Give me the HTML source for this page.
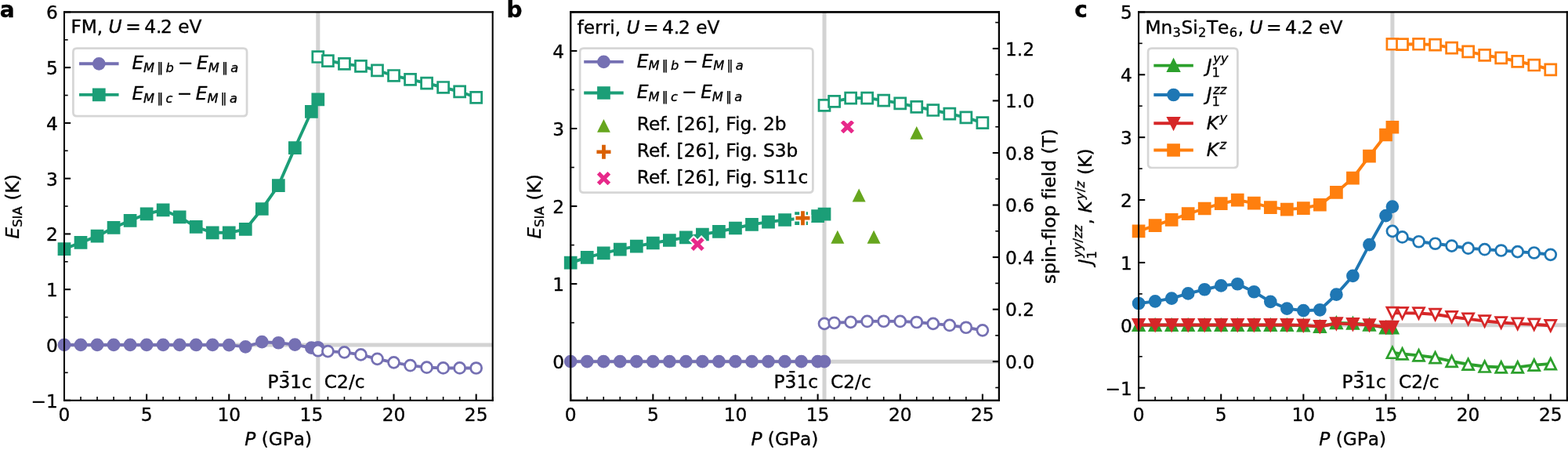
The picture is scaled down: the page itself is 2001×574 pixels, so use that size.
<!DOCTYPE html>
<html lang="en">
<head>
<meta charset="utf-8">
<title>Figure</title>
<style>
html,body{margin:0;padding:0;background:#fff;overflow:hidden}
svg{display:block;font-family:'DejaVu Sans',sans-serif}
text{stroke:#000;stroke-width:0.35px;stroke-linejoin:round;font-variant-ligatures:none}
</style>
</head>
<body>
<svg width="2001" height="574" viewBox="0 0 2001 574">
<g>
<g>
<path d="M 0 574 L 2001 574 L 2001 0 L 0 0 z" style="fill: #ffffff"/>
</g>
<g>
<g>
<path d="M 82 510.7 L 628.7 510.7 L 628.7 15.4 L 82 15.4 z" style="fill: #ffffff"/>
</g>
<g>
<path d="M 405.81 510.7 L 405.81 15.4" clip-path="url(#pd2cb2545d2)" style="fill: none; stroke: #d3d3d3; stroke-width: 5.06; stroke-linecap: square"/>
</g>
<g>
<path d="M 82 439.94 L 628.7 439.94" clip-path="url(#pd2cb2545d2)" style="fill: none; stroke: #d3d3d3; stroke-width: 5.06; stroke-linecap: square"/>
</g>
<g>
<g>
<g>
<g>
<path d="M 0 0 L 0 -8.15" transform="translate(82 510.7)" style="stroke: #000000; stroke-width: 2.06"/>
</g>
</g>
<g>
<text style="font-size: 23.3px; font-family: 'DejaVu Sans', sans-serif; text-anchor: middle" x="82" y="536.56">0</text>
</g>
</g>
<g>
<g>
<g>
<path d="M 0 0 L 0 -8.15" transform="translate(187.13 510.7)" style="stroke: #000000; stroke-width: 2.06"/>
</g>
</g>
<g>
<text style="font-size: 23.3px; font-family: 'DejaVu Sans', sans-serif; text-anchor: middle" x="187.13" y="536.56">5</text>
</g>
</g>
<g>
<g>
<g>
<path d="M 0 0 L 0 -8.15" transform="translate(292.27 510.7)" style="stroke: #000000; stroke-width: 2.06"/>
</g>
</g>
<g>
<text style="font-size: 23.3px; font-family: 'DejaVu Sans', sans-serif; text-anchor: middle" x="292.27" y="536.56">10</text>
</g>
</g>
<g>
<g>
<g>
<path d="M 0 0 L 0 -8.15" transform="translate(397.4 510.7)" style="stroke: #000000; stroke-width: 2.06"/>
</g>
</g>
<g>
<text style="font-size: 23.3px; font-family: 'DejaVu Sans', sans-serif; text-anchor: middle" x="397.4" y="536.56">15</text>
</g>
</g>
<g>
<g>
<g>
<path d="M 0 0 L 0 -8.15" transform="translate(502.54 510.7)" style="stroke: #000000; stroke-width: 2.06"/>
</g>
</g>
<g>
<text style="font-size: 23.3px; font-family: 'DejaVu Sans', sans-serif; text-anchor: middle" x="502.54" y="536.56">20</text>
</g>
</g>
<g>
<g>
<g>
<path d="M 0 0 L 0 -8.15" transform="translate(607.67 510.7)" style="stroke: #000000; stroke-width: 2.06"/>
</g>
</g>
<g>
<text style="font-size: 23.3px; font-family: 'DejaVu Sans', sans-serif; text-anchor: middle" x="607.67" y="536.56">25</text>
</g>
</g>
<g>
<g>
<g>
<path d="M 0 0 L 0 -4.66" transform="translate(103.03 510.7)" style="stroke: #000000; stroke-width: 1.6"/>
</g>
</g>
</g>
<g>
<g>
<g>
<path d="M 0 0 L 0 -4.66" transform="translate(124.05 510.7)" style="stroke: #000000; stroke-width: 1.6"/>
</g>
</g>
</g>
<g>
<g>
<g>
<path d="M 0 0 L 0 -4.66" transform="translate(145.08 510.7)" style="stroke: #000000; stroke-width: 1.6"/>
</g>
</g>
</g>
<g>
<g>
<g>
<path d="M 0 0 L 0 -4.66" transform="translate(166.11 510.7)" style="stroke: #000000; stroke-width: 1.6"/>
</g>
</g>
</g>
<g>
<g>
<g>
<path d="M 0 0 L 0 -4.66" transform="translate(208.16 510.7)" style="stroke: #000000; stroke-width: 1.6"/>
</g>
</g>
</g>
<g>
<g>
<g>
<path d="M 0 0 L 0 -4.66" transform="translate(229.19 510.7)" style="stroke: #000000; stroke-width: 1.6"/>
</g>
</g>
</g>
<g>
<g>
<g>
<path d="M 0 0 L 0 -4.66" transform="translate(250.22 510.7)" style="stroke: #000000; stroke-width: 1.6"/>
</g>
</g>
</g>
<g>
<g>
<g>
<path d="M 0 0 L 0 -4.66" transform="translate(271.24 510.7)" style="stroke: #000000; stroke-width: 1.6"/>
</g>
</g>
</g>
<g>
<g>
<g>
<path d="M 0 0 L 0 -4.66" transform="translate(313.3 510.7)" style="stroke: #000000; stroke-width: 1.6"/>
</g>
</g>
</g>
<g>
<g>
<g>
<path d="M 0 0 L 0 -4.66" transform="translate(334.32 510.7)" style="stroke: #000000; stroke-width: 1.6"/>
</g>
</g>
</g>
<g>
<g>
<g>
<path d="M 0 0 L 0 -4.66" transform="translate(355.35 510.7)" style="stroke: #000000; stroke-width: 1.6"/>
</g>
</g>
</g>
<g>
<g>
<g>
<path d="M 0 0 L 0 -4.66" transform="translate(376.38 510.7)" style="stroke: #000000; stroke-width: 1.6"/>
</g>
</g>
</g>
<g>
<g>
<g>
<path d="M 0 0 L 0 -4.66" transform="translate(418.43 510.7)" style="stroke: #000000; stroke-width: 1.6"/>
</g>
</g>
</g>
<g>
<g>
<g>
<path d="M 0 0 L 0 -4.66" transform="translate(439.46 510.7)" style="stroke: #000000; stroke-width: 1.6"/>
</g>
</g>
</g>
<g>
<g>
<g>
<path d="M 0 0 L 0 -4.66" transform="translate(460.48 510.7)" style="stroke: #000000; stroke-width: 1.6"/>
</g>
</g>
</g>
<g>
<g>
<g>
<path d="M 0 0 L 0 -4.66" transform="translate(481.51 510.7)" style="stroke: #000000; stroke-width: 1.6"/>
</g>
</g>
</g>
<g>
<g>
<g>
<path d="M 0 0 L 0 -4.66" transform="translate(523.57 510.7)" style="stroke: #000000; stroke-width: 1.6"/>
</g>
</g>
</g>
<g>
<g>
<g>
<path d="M 0 0 L 0 -4.66" transform="translate(544.59 510.7)" style="stroke: #000000; stroke-width: 1.6"/>
</g>
</g>
</g>
<g>
<g>
<g>
<path d="M 0 0 L 0 -4.66" transform="translate(565.62 510.7)" style="stroke: #000000; stroke-width: 1.6"/>
</g>
</g>
</g>
<g>
<g>
<g>
<path d="M 0 0 L 0 -4.66" transform="translate(586.65 510.7)" style="stroke: #000000; stroke-width: 1.6"/>
</g>
</g>
</g>
<g>
<g>
<g>
<path d="M 0 0 L 0 -4.66" transform="translate(628.7 510.7)" style="stroke: #000000; stroke-width: 1.6"/>
</g>
</g>
</g>
<g>
<g transform="translate(312.25 568.43)">
<text><tspan x="0" y="-0.55" style="font-style: oblique; font-size: 23.3px; font-family: 'DejaVu Sans', sans-serif">P</tspan><tspan x="14.02 21.41 30.48 48.5 62.52 76.77" y="-0.55" style="font-size: 23.3px; font-family: 'DejaVu Sans', sans-serif"> (GPa)</tspan></text>
</g>
</g>
</g>
<g>
<g>
<g>
<g>
<path d="M 0 0 L 8.15 0" transform="translate(82 510.7)" style="stroke: #000000; stroke-width: 2.06"/>
</g>
</g>
<g>
<text style="font-size: 23.3px; font-family: 'DejaVu Sans', sans-serif; text-anchor: end" x="73.84" y="519.55">−1</text>
</g>
</g>
<g>
<g>
<g>
<path d="M 0 0 L 8.15 0" transform="translate(82 439.94)" style="stroke: #000000; stroke-width: 2.06"/>
</g>
</g>
<g>
<text style="font-size: 23.3px; font-family: 'DejaVu Sans', sans-serif; text-anchor: end" x="73.84" y="448.8">0</text>
</g>
</g>
<g>
<g>
<g>
<path d="M 0 0 L 8.15 0" transform="translate(82 369.19)" style="stroke: #000000; stroke-width: 2.06"/>
</g>
</g>
<g>
<text style="font-size: 23.3px; font-family: 'DejaVu Sans', sans-serif; text-anchor: end" x="73.84" y="378.04">1</text>
</g>
</g>
<g>
<g>
<g>
<path d="M 0 0 L 8.15 0" transform="translate(82 298.43)" style="stroke: #000000; stroke-width: 2.06"/>
</g>
</g>
<g>
<text style="font-size: 23.3px; font-family: 'DejaVu Sans', sans-serif; text-anchor: end" x="73.84" y="307.28">2</text>
</g>
</g>
<g>
<g>
<g>
<path d="M 0 0 L 8.15 0" transform="translate(82 227.67)" style="stroke: #000000; stroke-width: 2.06"/>
</g>
</g>
<g>
<text style="font-size: 23.3px; font-family: 'DejaVu Sans', sans-serif; text-anchor: end" x="73.84" y="236.52">3</text>
</g>
</g>
<g>
<g>
<g>
<path d="M 0 0 L 8.15 0" transform="translate(82 156.91)" style="stroke: #000000; stroke-width: 2.06"/>
</g>
</g>
<g>
<text style="font-size: 23.3px; font-family: 'DejaVu Sans', sans-serif; text-anchor: end" x="73.84" y="165.77">4</text>
</g>
</g>
<g>
<g>
<g>
<path d="M 0 0 L 8.15 0" transform="translate(82 86.16)" style="stroke: #000000; stroke-width: 2.06"/>
</g>
</g>
<g>
<text style="font-size: 23.3px; font-family: 'DejaVu Sans', sans-serif; text-anchor: end" x="73.84" y="95.01">5</text>
</g>
</g>
<g>
<g>
<g>
<path d="M 0 0 L 8.15 0" transform="translate(82 15.4)" style="stroke: #000000; stroke-width: 2.06"/>
</g>
</g>
<g>
<text style="font-size: 23.3px; font-family: 'DejaVu Sans', sans-serif; text-anchor: end" x="73.84" y="24.25">6</text>
</g>
</g>
<g>
<g>
<g>
<path d="M 0 0 L 4.66 0" transform="translate(82 475.32)" style="stroke: #000000; stroke-width: 1.6"/>
</g>
</g>
</g>
<g>
<g>
<g>
<path d="M 0 0 L 4.66 0" transform="translate(82 404.56)" style="stroke: #000000; stroke-width: 1.6"/>
</g>
</g>
</g>
<g>
<g>
<g>
<path d="M 0 0 L 4.66 0" transform="translate(82 333.81)" style="stroke: #000000; stroke-width: 1.6"/>
</g>
</g>
</g>
<g>
<g>
<g>
<path d="M 0 0 L 4.66 0" transform="translate(82 263.05)" style="stroke: #000000; stroke-width: 1.6"/>
</g>
</g>
</g>
<g>
<g>
<g>
<path d="M 0 0 L 4.66 0" transform="translate(82 192.29)" style="stroke: #000000; stroke-width: 1.6"/>
</g>
</g>
</g>
<g>
<g>
<g>
<path d="M 0 0 L 4.66 0" transform="translate(82 121.54)" style="stroke: #000000; stroke-width: 1.6"/>
</g>
</g>
</g>
<g>
<g>
<g>
<path d="M 0 0 L 4.66 0" transform="translate(82 50.78)" style="stroke: #000000; stroke-width: 1.6"/>
</g>
</g>
</g>
<g>
<g transform="translate(24.83 304.41) rotate(-90)">
<text><tspan x="0" y="-0.55" style="font-style: oblique; font-size: 23.3px; font-family: 'DejaVu Sans', sans-serif">E</tspan><tspan x="14.69 25.02 29.82" y="3.23" style="font-size: 16.31px; font-family: 'DejaVu Sans', sans-serif">SIA</tspan><tspan x="41.58 48.97 58.04 73.29" y="-0.55" style="font-size: 23.3px; font-family: 'DejaVu Sans', sans-serif"> (K)</tspan></text>
</g>
</g>
</g>
<g>
<path d="M 82 439.94 L 103.03 439.94 L 124.05 439.94 L 145.08 439.94 L 166.11 439.94 L 187.13 439.94 L 208.16 439.94 L 229.19 439.94 L 250.22 439.94 L 271.24 439.94 L 292.27 440.16 L 313.3 442.35 L 334.32 436.19 L 355.35 437.25 L 376.38 439.59 L 397.4 443.69 L 405.81 443.27" style="fill: none; stroke: #7570b3; stroke-width: 3.9; stroke-linecap: square"/>
<g>
<path d="M 0 6.99 C 1.85 6.99 3.63 6.25 4.94 4.94 C 6.25 3.63 6.99 1.85 6.99 0 C 6.99 -1.85 6.25 -3.63 4.94 -4.94 C 3.63 -6.25 1.85 -6.99 0 -6.99 C -1.85 -6.99 -3.63 -6.25 -4.94 -4.94 C -6.25 -3.63 -6.99 -1.85 -6.99 0 C -6.99 1.85 -6.25 3.63 -4.94 4.94 C -3.63 6.25 -1.85 6.99 0 6.99 z" transform="translate(82 439.94)" style="fill: #7570b3; stroke: #7570b3; stroke-width: 2.73"/>
<path d="M 0 6.99 C 1.85 6.99 3.63 6.25 4.94 4.94 C 6.25 3.63 6.99 1.85 6.99 0 C 6.99 -1.85 6.25 -3.63 4.94 -4.94 C 3.63 -6.25 1.85 -6.99 0 -6.99 C -1.85 -6.99 -3.63 -6.25 -4.94 -4.94 C -6.25 -3.63 -6.99 -1.85 -6.99 0 C -6.99 1.85 -6.25 3.63 -4.94 4.94 C -3.63 6.25 -1.85 6.99 0 6.99 z" transform="translate(103.03 439.94)" style="fill: #7570b3; stroke: #7570b3; stroke-width: 2.73"/>
<path d="M 0 6.99 C 1.85 6.99 3.63 6.25 4.94 4.94 C 6.25 3.63 6.99 1.85 6.99 0 C 6.99 -1.85 6.25 -3.63 4.94 -4.94 C 3.63 -6.25 1.85 -6.99 0 -6.99 C -1.85 -6.99 -3.63 -6.25 -4.94 -4.94 C -6.25 -3.63 -6.99 -1.85 -6.99 0 C -6.99 1.85 -6.25 3.63 -4.94 4.94 C -3.63 6.25 -1.85 6.99 0 6.99 z" transform="translate(124.05 439.94)" style="fill: #7570b3; stroke: #7570b3; stroke-width: 2.73"/>
<path d="M 0 6.99 C 1.85 6.99 3.63 6.25 4.94 4.94 C 6.25 3.63 6.99 1.85 6.99 0 C 6.99 -1.85 6.25 -3.63 4.94 -4.94 C 3.63 -6.25 1.85 -6.99 0 -6.99 C -1.85 -6.99 -3.63 -6.25 -4.94 -4.94 C -6.25 -3.63 -6.99 -1.85 -6.99 0 C -6.99 1.85 -6.25 3.63 -4.94 4.94 C -3.63 6.25 -1.85 6.99 0 6.99 z" transform="translate(145.08 439.94)" style="fill: #7570b3; stroke: #7570b3; stroke-width: 2.73"/>
<path d="M 0 6.99 C 1.85 6.99 3.63 6.25 4.94 4.94 C 6.25 3.63 6.99 1.85 6.99 0 C 6.99 -1.85 6.25 -3.63 4.94 -4.94 C 3.63 -6.25 1.85 -6.99 0 -6.99 C -1.85 -6.99 -3.63 -6.25 -4.94 -4.94 C -6.25 -3.63 -6.99 -1.85 -6.99 0 C -6.99 1.85 -6.25 3.63 -4.94 4.94 C -3.63 6.25 -1.85 6.99 0 6.99 z" transform="translate(166.11 439.94)" style="fill: #7570b3; stroke: #7570b3; stroke-width: 2.73"/>
<path d="M 0 6.99 C 1.85 6.99 3.63 6.25 4.94 4.94 C 6.25 3.63 6.99 1.85 6.99 0 C 6.99 -1.85 6.25 -3.63 4.94 -4.94 C 3.63 -6.25 1.85 -6.99 0 -6.99 C -1.85 -6.99 -3.63 -6.25 -4.94 -4.94 C -6.25 -3.63 -6.99 -1.85 -6.99 0 C -6.99 1.85 -6.25 3.63 -4.94 4.94 C -3.63 6.25 -1.85 6.99 0 6.99 z" transform="translate(187.13 439.94)" style="fill: #7570b3; stroke: #7570b3; stroke-width: 2.73"/>
<path d="M 0 6.99 C 1.85 6.99 3.63 6.25 4.94 4.94 C 6.25 3.63 6.99 1.85 6.99 0 C 6.99 -1.85 6.25 -3.63 4.94 -4.94 C 3.63 -6.25 1.85 -6.99 0 -6.99 C -1.85 -6.99 -3.63 -6.25 -4.94 -4.94 C -6.25 -3.63 -6.99 -1.85 -6.99 0 C -6.99 1.85 -6.25 3.63 -4.94 4.94 C -3.63 6.25 -1.85 6.99 0 6.99 z" transform="translate(208.16 439.94)" style="fill: #7570b3; stroke: #7570b3; stroke-width: 2.73"/>
<path d="M 0 6.99 C 1.85 6.99 3.63 6.25 4.94 4.94 C 6.25 3.63 6.99 1.85 6.99 0 C 6.99 -1.85 6.25 -3.63 4.94 -4.94 C 3.63 -6.25 1.85 -6.99 0 -6.99 C -1.85 -6.99 -3.63 -6.25 -4.94 -4.94 C -6.25 -3.63 -6.99 -1.85 -6.99 0 C -6.99 1.85 -6.25 3.63 -4.94 4.94 C -3.63 6.25 -1.85 6.99 0 6.99 z" transform="translate(229.19 439.94)" style="fill: #7570b3; stroke: #7570b3; stroke-width: 2.73"/>
<path d="M 0 6.99 C 1.85 6.99 3.63 6.25 4.94 4.94 C 6.25 3.63 6.99 1.85 6.99 0 C 6.99 -1.85 6.25 -3.63 4.94 -4.94 C 3.63 -6.25 1.85 -6.99 0 -6.99 C -1.85 -6.99 -3.63 -6.25 -4.94 -4.94 C -6.25 -3.63 -6.99 -1.85 -6.99 0 C -6.99 1.85 -6.25 3.63 -4.94 4.94 C -3.63 6.25 -1.85 6.99 0 6.99 z" transform="translate(250.22 439.94)" style="fill: #7570b3; stroke: #7570b3; stroke-width: 2.73"/>
<path d="M 0 6.99 C 1.85 6.99 3.63 6.25 4.94 4.94 C 6.25 3.63 6.99 1.85 6.99 0 C 6.99 -1.85 6.25 -3.63 4.94 -4.94 C 3.63 -6.25 1.85 -6.99 0 -6.99 C -1.85 -6.99 -3.63 -6.25 -4.94 -4.94 C -6.25 -3.63 -6.99 -1.85 -6.99 0 C -6.99 1.85 -6.25 3.63 -4.94 4.94 C -3.63 6.25 -1.85 6.99 0 6.99 z" transform="translate(271.24 439.94)" style="fill: #7570b3; stroke: #7570b3; stroke-width: 2.73"/>
<path d="M 0 6.99 C 1.85 6.99 3.63 6.25 4.94 4.94 C 6.25 3.63 6.99 1.85 6.99 0 C 6.99 -1.85 6.25 -3.63 4.94 -4.94 C 3.63 -6.25 1.85 -6.99 0 -6.99 C -1.85 -6.99 -3.63 -6.25 -4.94 -4.94 C -6.25 -3.63 -6.99 -1.85 -6.99 0 C -6.99 1.85 -6.25 3.63 -4.94 4.94 C -3.63 6.25 -1.85 6.99 0 6.99 z" transform="translate(292.27 440.16)" style="fill: #7570b3; stroke: #7570b3; stroke-width: 2.73"/>
<path d="M 0 6.99 C 1.85 6.99 3.63 6.25 4.94 4.94 C 6.25 3.63 6.99 1.85 6.99 0 C 6.99 -1.85 6.25 -3.63 4.94 -4.94 C 3.63 -6.25 1.85 -6.99 0 -6.99 C -1.85 -6.99 -3.63 -6.25 -4.94 -4.94 C -6.25 -3.63 -6.99 -1.85 -6.99 0 C -6.99 1.85 -6.25 3.63 -4.94 4.94 C -3.63 6.25 -1.85 6.99 0 6.99 z" transform="translate(313.3 442.35)" style="fill: #7570b3; stroke: #7570b3; stroke-width: 2.73"/>
<path d="M 0 6.99 C 1.85 6.99 3.63 6.25 4.94 4.94 C 6.25 3.63 6.99 1.85 6.99 0 C 6.99 -1.85 6.25 -3.63 4.94 -4.94 C 3.63 -6.25 1.85 -6.99 0 -6.99 C -1.85 -6.99 -3.63 -6.25 -4.94 -4.94 C -6.25 -3.63 -6.99 -1.85 -6.99 0 C -6.99 1.85 -6.25 3.63 -4.94 4.94 C -3.63 6.25 -1.85 6.99 0 6.99 z" transform="translate(334.32 436.19)" style="fill: #7570b3; stroke: #7570b3; stroke-width: 2.73"/>
<path d="M 0 6.99 C 1.85 6.99 3.63 6.25 4.94 4.94 C 6.25 3.63 6.99 1.85 6.99 0 C 6.99 -1.85 6.25 -3.63 4.94 -4.94 C 3.63 -6.25 1.85 -6.99 0 -6.99 C -1.85 -6.99 -3.63 -6.25 -4.94 -4.94 C -6.25 -3.63 -6.99 -1.85 -6.99 0 C -6.99 1.85 -6.25 3.63 -4.94 4.94 C -3.63 6.25 -1.85 6.99 0 6.99 z" transform="translate(355.35 437.25)" style="fill: #7570b3; stroke: #7570b3; stroke-width: 2.73"/>
<path d="M 0 6.99 C 1.85 6.99 3.63 6.25 4.94 4.94 C 6.25 3.63 6.99 1.85 6.99 0 C 6.99 -1.85 6.25 -3.63 4.94 -4.94 C 3.63 -6.25 1.85 -6.99 0 -6.99 C -1.85 -6.99 -3.63 -6.25 -4.94 -4.94 C -6.25 -3.63 -6.99 -1.85 -6.99 0 C -6.99 1.85 -6.25 3.63 -4.94 4.94 C -3.63 6.25 -1.85 6.99 0 6.99 z" transform="translate(376.38 439.59)" style="fill: #7570b3; stroke: #7570b3; stroke-width: 2.73"/>
<path d="M 0 6.99 C 1.85 6.99 3.63 6.25 4.94 4.94 C 6.25 3.63 6.99 1.85 6.99 0 C 6.99 -1.85 6.25 -3.63 4.94 -4.94 C 3.63 -6.25 1.85 -6.99 0 -6.99 C -1.85 -6.99 -3.63 -6.25 -4.94 -4.94 C -6.25 -3.63 -6.99 -1.85 -6.99 0 C -6.99 1.85 -6.25 3.63 -4.94 4.94 C -3.63 6.25 -1.85 6.99 0 6.99 z" transform="translate(397.4 443.69)" style="fill: #7570b3; stroke: #7570b3; stroke-width: 2.73"/>
<path d="M 0 6.99 C 1.85 6.99 3.63 6.25 4.94 4.94 C 6.25 3.63 6.99 1.85 6.99 0 C 6.99 -1.85 6.25 -3.63 4.94 -4.94 C 3.63 -6.25 1.85 -6.99 0 -6.99 C -1.85 -6.99 -3.63 -6.25 -4.94 -4.94 C -6.25 -3.63 -6.99 -1.85 -6.99 0 C -6.99 1.85 -6.25 3.63 -4.94 4.94 C -3.63 6.25 -1.85 6.99 0 6.99 z" transform="translate(405.81 443.27)" style="fill: #7570b3; stroke: #7570b3; stroke-width: 2.73"/>
</g>
</g>
<g>
<path d="M 405.81 447.23 L 418.43 448.08 L 439.46 449.35 L 460.48 452.4 L 481.51 457.84 L 502.54 462.37 L 523.57 466.19 L 544.59 468.67 L 565.62 469.45 L 586.65 469.45 L 607.67 469.52" style="fill: none; stroke: #7570b3; stroke-width: 3.9; stroke-linecap: square"/>
<g>
<path d="M 0 6.99 C 1.85 6.99 3.63 6.25 4.94 4.94 C 6.25 3.63 6.99 1.85 6.99 0 C 6.99 -1.85 6.25 -3.63 4.94 -4.94 C 3.63 -6.25 1.85 -6.99 0 -6.99 C -1.85 -6.99 -3.63 -6.25 -4.94 -4.94 C -6.25 -3.63 -6.99 -1.85 -6.99 0 C -6.99 1.85 -6.25 3.63 -4.94 4.94 C -3.63 6.25 -1.85 6.99 0 6.99 z" transform="translate(405.81 447.23)" style="fill: #ffffff; stroke: #7570b3; stroke-width: 2.73"/>
<path d="M 0 6.99 C 1.85 6.99 3.63 6.25 4.94 4.94 C 6.25 3.63 6.99 1.85 6.99 0 C 6.99 -1.85 6.25 -3.63 4.94 -4.94 C 3.63 -6.25 1.85 -6.99 0 -6.99 C -1.85 -6.99 -3.63 -6.25 -4.94 -4.94 C -6.25 -3.63 -6.99 -1.85 -6.99 0 C -6.99 1.85 -6.25 3.63 -4.94 4.94 C -3.63 6.25 -1.85 6.99 0 6.99 z" transform="translate(418.43 448.08)" style="fill: #ffffff; stroke: #7570b3; stroke-width: 2.73"/>
<path d="M 0 6.99 C 1.85 6.99 3.63 6.25 4.94 4.94 C 6.25 3.63 6.99 1.85 6.99 0 C 6.99 -1.85 6.25 -3.63 4.94 -4.94 C 3.63 -6.25 1.85 -6.99 0 -6.99 C -1.85 -6.99 -3.63 -6.25 -4.94 -4.94 C -6.25 -3.63 -6.99 -1.85 -6.99 0 C -6.99 1.85 -6.25 3.63 -4.94 4.94 C -3.63 6.25 -1.85 6.99 0 6.99 z" transform="translate(439.46 449.35)" style="fill: #ffffff; stroke: #7570b3; stroke-width: 2.73"/>
<path d="M 0 6.99 C 1.85 6.99 3.63 6.25 4.94 4.94 C 6.25 3.63 6.99 1.85 6.99 0 C 6.99 -1.85 6.25 -3.63 4.94 -4.94 C 3.63 -6.25 1.85 -6.99 0 -6.99 C -1.85 -6.99 -3.63 -6.25 -4.94 -4.94 C -6.25 -3.63 -6.99 -1.85 -6.99 0 C -6.99 1.85 -6.25 3.63 -4.94 4.94 C -3.63 6.25 -1.85 6.99 0 6.99 z" transform="translate(460.48 452.4)" style="fill: #ffffff; stroke: #7570b3; stroke-width: 2.73"/>
<path d="M 0 6.99 C 1.85 6.99 3.63 6.25 4.94 4.94 C 6.25 3.63 6.99 1.85 6.99 0 C 6.99 -1.85 6.25 -3.63 4.94 -4.94 C 3.63 -6.25 1.85 -6.99 0 -6.99 C -1.85 -6.99 -3.63 -6.25 -4.94 -4.94 C -6.25 -3.63 -6.99 -1.85 -6.99 0 C -6.99 1.85 -6.25 3.63 -4.94 4.94 C -3.63 6.25 -1.85 6.99 0 6.99 z" transform="translate(481.51 457.84)" style="fill: #ffffff; stroke: #7570b3; stroke-width: 2.73"/>
<path d="M 0 6.99 C 1.85 6.99 3.63 6.25 4.94 4.94 C 6.25 3.63 6.99 1.85 6.99 0 C 6.99 -1.85 6.25 -3.63 4.94 -4.94 C 3.63 -6.25 1.85 -6.99 0 -6.99 C -1.85 -6.99 -3.63 -6.25 -4.94 -4.94 C -6.25 -3.63 -6.99 -1.85 -6.99 0 C -6.99 1.85 -6.25 3.63 -4.94 4.94 C -3.63 6.25 -1.85 6.99 0 6.99 z" transform="translate(502.54 462.37)" style="fill: #ffffff; stroke: #7570b3; stroke-width: 2.73"/>
<path d="M 0 6.99 C 1.85 6.99 3.63 6.25 4.94 4.94 C 6.25 3.63 6.99 1.85 6.99 0 C 6.99 -1.85 6.25 -3.63 4.94 -4.94 C 3.63 -6.25 1.85 -6.99 0 -6.99 C -1.85 -6.99 -3.63 -6.25 -4.94 -4.94 C -6.25 -3.63 -6.99 -1.85 -6.99 0 C -6.99 1.85 -6.25 3.63 -4.94 4.94 C -3.63 6.25 -1.85 6.99 0 6.99 z" transform="translate(523.57 466.19)" style="fill: #ffffff; stroke: #7570b3; stroke-width: 2.73"/>
<path d="M 0 6.99 C 1.85 6.99 3.63 6.25 4.94 4.94 C 6.25 3.63 6.99 1.85 6.99 0 C 6.99 -1.85 6.25 -3.63 4.94 -4.94 C 3.63 -6.25 1.85 -6.99 0 -6.99 C -1.85 -6.99 -3.63 -6.25 -4.94 -4.94 C -6.25 -3.63 -6.99 -1.85 -6.99 0 C -6.99 1.85 -6.25 3.63 -4.94 4.94 C -3.63 6.25 -1.85 6.99 0 6.99 z" transform="translate(544.59 468.67)" style="fill: #ffffff; stroke: #7570b3; stroke-width: 2.73"/>
<path d="M 0 6.99 C 1.85 6.99 3.63 6.25 4.94 4.94 C 6.25 3.63 6.99 1.85 6.99 0 C 6.99 -1.85 6.25 -3.63 4.94 -4.94 C 3.63 -6.25 1.85 -6.99 0 -6.99 C -1.85 -6.99 -3.63 -6.25 -4.94 -4.94 C -6.25 -3.63 -6.99 -1.85 -6.99 0 C -6.99 1.85 -6.25 3.63 -4.94 4.94 C -3.63 6.25 -1.85 6.99 0 6.99 z" transform="translate(565.62 469.45)" style="fill: #ffffff; stroke: #7570b3; stroke-width: 2.73"/>
<path d="M 0 6.99 C 1.85 6.99 3.63 6.25 4.94 4.94 C 6.25 3.63 6.99 1.85 6.99 0 C 6.99 -1.85 6.25 -3.63 4.94 -4.94 C 3.63 -6.25 1.85 -6.99 0 -6.99 C -1.85 -6.99 -3.63 -6.25 -4.94 -4.94 C -6.25 -3.63 -6.99 -1.85 -6.99 0 C -6.99 1.85 -6.25 3.63 -4.94 4.94 C -3.63 6.25 -1.85 6.99 0 6.99 z" transform="translate(586.65 469.45)" style="fill: #ffffff; stroke: #7570b3; stroke-width: 2.73"/>
<path d="M 0 6.99 C 1.85 6.99 3.63 6.25 4.94 4.94 C 6.25 3.63 6.99 1.85 6.99 0 C 6.99 -1.85 6.25 -3.63 4.94 -4.94 C 3.63 -6.25 1.85 -6.99 0 -6.99 C -1.85 -6.99 -3.63 -6.25 -4.94 -4.94 C -6.25 -3.63 -6.99 -1.85 -6.99 0 C -6.99 1.85 -6.25 3.63 -4.94 4.94 C -3.63 6.25 -1.85 6.99 0 6.99 z" transform="translate(607.67 469.52)" style="fill: #ffffff; stroke: #7570b3; stroke-width: 2.73"/>
</g>
</g>
<g>
<path d="M 82 317.53 L 103.03 309.47 L 124.05 301.12 L 145.08 290.43 L 166.11 281.31 L 187.13 272.89 L 208.16 267.79 L 229.19 276.92 L 250.22 289.44 L 271.24 296.8 L 292.27 296.8 L 313.3 292.41 L 334.32 266.52 L 355.35 236.52 L 376.38 188.54 L 397.4 142.27 L 405.81 126.91" style="fill: none; stroke: #1b9e77; stroke-width: 3.9; stroke-linecap: square"/>
<g>
<path d="M -6.99 6.99 L 6.99 6.99 L 6.99 -6.99 L -6.99 -6.99 z" transform="translate(82 317.53)" style="fill: #1b9e77; stroke: #1b9e77; stroke-width: 2.73; stroke-linejoin: miter"/>
<path d="M -6.99 6.99 L 6.99 6.99 L 6.99 -6.99 L -6.99 -6.99 z" transform="translate(103.03 309.47)" style="fill: #1b9e77; stroke: #1b9e77; stroke-width: 2.73; stroke-linejoin: miter"/>
<path d="M -6.99 6.99 L 6.99 6.99 L 6.99 -6.99 L -6.99 -6.99 z" transform="translate(124.05 301.12)" style="fill: #1b9e77; stroke: #1b9e77; stroke-width: 2.73; stroke-linejoin: miter"/>
<path d="M -6.99 6.99 L 6.99 6.99 L 6.99 -6.99 L -6.99 -6.99 z" transform="translate(145.08 290.43)" style="fill: #1b9e77; stroke: #1b9e77; stroke-width: 2.73; stroke-linejoin: miter"/>
<path d="M -6.99 6.99 L 6.99 6.99 L 6.99 -6.99 L -6.99 -6.99 z" transform="translate(166.11 281.31)" style="fill: #1b9e77; stroke: #1b9e77; stroke-width: 2.73; stroke-linejoin: miter"/>
<path d="M -6.99 6.99 L 6.99 6.99 L 6.99 -6.99 L -6.99 -6.99 z" transform="translate(187.13 272.89)" style="fill: #1b9e77; stroke: #1b9e77; stroke-width: 2.73; stroke-linejoin: miter"/>
<path d="M -6.99 6.99 L 6.99 6.99 L 6.99 -6.99 L -6.99 -6.99 z" transform="translate(208.16 267.79)" style="fill: #1b9e77; stroke: #1b9e77; stroke-width: 2.73; stroke-linejoin: miter"/>
<path d="M -6.99 6.99 L 6.99 6.99 L 6.99 -6.99 L -6.99 -6.99 z" transform="translate(229.19 276.92)" style="fill: #1b9e77; stroke: #1b9e77; stroke-width: 2.73; stroke-linejoin: miter"/>
<path d="M -6.99 6.99 L 6.99 6.99 L 6.99 -6.99 L -6.99 -6.99 z" transform="translate(250.22 289.44)" style="fill: #1b9e77; stroke: #1b9e77; stroke-width: 2.73; stroke-linejoin: miter"/>
<path d="M -6.99 6.99 L 6.99 6.99 L 6.99 -6.99 L -6.99 -6.99 z" transform="translate(271.24 296.8)" style="fill: #1b9e77; stroke: #1b9e77; stroke-width: 2.73; stroke-linejoin: miter"/>
<path d="M -6.99 6.99 L 6.99 6.99 L 6.99 -6.99 L -6.99 -6.99 z" transform="translate(292.27 296.8)" style="fill: #1b9e77; stroke: #1b9e77; stroke-width: 2.73; stroke-linejoin: miter"/>
<path d="M -6.99 6.99 L 6.99 6.99 L 6.99 -6.99 L -6.99 -6.99 z" transform="translate(313.3 292.41)" style="fill: #1b9e77; stroke: #1b9e77; stroke-width: 2.73; stroke-linejoin: miter"/>
<path d="M -6.99 6.99 L 6.99 6.99 L 6.99 -6.99 L -6.99 -6.99 z" transform="translate(334.32 266.52)" style="fill: #1b9e77; stroke: #1b9e77; stroke-width: 2.73; stroke-linejoin: miter"/>
<path d="M -6.99 6.99 L 6.99 6.99 L 6.99 -6.99 L -6.99 -6.99 z" transform="translate(355.35 236.52)" style="fill: #1b9e77; stroke: #1b9e77; stroke-width: 2.73; stroke-linejoin: miter"/>
<path d="M -6.99 6.99 L 6.99 6.99 L 6.99 -6.99 L -6.99 -6.99 z" transform="translate(376.38 188.54)" style="fill: #1b9e77; stroke: #1b9e77; stroke-width: 2.73; stroke-linejoin: miter"/>
<path d="M -6.99 6.99 L 6.99 6.99 L 6.99 -6.99 L -6.99 -6.99 z" transform="translate(397.4 142.27)" style="fill: #1b9e77; stroke: #1b9e77; stroke-width: 2.73; stroke-linejoin: miter"/>
<path d="M -6.99 6.99 L 6.99 6.99 L 6.99 -6.99 L -6.99 -6.99 z" transform="translate(405.81 126.91)" style="fill: #1b9e77; stroke: #1b9e77; stroke-width: 2.73; stroke-linejoin: miter"/>
</g>
</g>
<g>
<path d="M 405.81 72.5 L 418.43 77.52 L 439.46 81.35 L 460.48 84.39 L 481.51 89.91 L 502.54 96.49 L 523.57 101.37 L 544.59 106.18 L 565.62 111.49 L 586.65 116.79 L 607.67 124.37" style="fill: none; stroke: #1b9e77; stroke-width: 3.9; stroke-linecap: square"/>
<g>
<path d="M -6.99 6.99 L 6.99 6.99 L 6.99 -6.99 L -6.99 -6.99 z" transform="translate(405.81 72.5)" style="fill: #ffffff; stroke: #1b9e77; stroke-width: 2.73; stroke-linejoin: miter"/>
<path d="M -6.99 6.99 L 6.99 6.99 L 6.99 -6.99 L -6.99 -6.99 z" transform="translate(418.43 77.52)" style="fill: #ffffff; stroke: #1b9e77; stroke-width: 2.73; stroke-linejoin: miter"/>
<path d="M -6.99 6.99 L 6.99 6.99 L 6.99 -6.99 L -6.99 -6.99 z" transform="translate(439.46 81.35)" style="fill: #ffffff; stroke: #1b9e77; stroke-width: 2.73; stroke-linejoin: miter"/>
<path d="M -6.99 6.99 L 6.99 6.99 L 6.99 -6.99 L -6.99 -6.99 z" transform="translate(460.48 84.39)" style="fill: #ffffff; stroke: #1b9e77; stroke-width: 2.73; stroke-linejoin: miter"/>
<path d="M -6.99 6.99 L 6.99 6.99 L 6.99 -6.99 L -6.99 -6.99 z" transform="translate(481.51 89.91)" style="fill: #ffffff; stroke: #1b9e77; stroke-width: 2.73; stroke-linejoin: miter"/>
<path d="M -6.99 6.99 L 6.99 6.99 L 6.99 -6.99 L -6.99 -6.99 z" transform="translate(502.54 96.49)" style="fill: #ffffff; stroke: #1b9e77; stroke-width: 2.73; stroke-linejoin: miter"/>
<path d="M -6.99 6.99 L 6.99 6.99 L 6.99 -6.99 L -6.99 -6.99 z" transform="translate(523.57 101.37)" style="fill: #ffffff; stroke: #1b9e77; stroke-width: 2.73; stroke-linejoin: miter"/>
<path d="M -6.99 6.99 L 6.99 6.99 L 6.99 -6.99 L -6.99 -6.99 z" transform="translate(544.59 106.18)" style="fill: #ffffff; stroke: #1b9e77; stroke-width: 2.73; stroke-linejoin: miter"/>
<path d="M -6.99 6.99 L 6.99 6.99 L 6.99 -6.99 L -6.99 -6.99 z" transform="translate(565.62 111.49)" style="fill: #ffffff; stroke: #1b9e77; stroke-width: 2.73; stroke-linejoin: miter"/>
<path d="M -6.99 6.99 L 6.99 6.99 L 6.99 -6.99 L -6.99 -6.99 z" transform="translate(586.65 116.79)" style="fill: #ffffff; stroke: #1b9e77; stroke-width: 2.73; stroke-linejoin: miter"/>
<path d="M -6.99 6.99 L 6.99 6.99 L 6.99 -6.99 L -6.99 -6.99 z" transform="translate(607.67 124.37)" style="fill: #ffffff; stroke: #1b9e77; stroke-width: 2.73; stroke-linejoin: miter"/>
</g>
</g>
<g>
<path d="M 82 510.7 L 82 15.4" style="fill: none; stroke: #000000; stroke-width: 2.06; stroke-linejoin: miter; stroke-linecap: square"/>
</g>
<g>
<path d="M 628.7 510.7 L 628.7 15.4" style="fill: none; stroke: #000000; stroke-width: 2.06; stroke-linejoin: miter; stroke-linecap: square"/>
</g>
<g>
<path d="M 82 510.7 L 628.7 510.7" style="fill: none; stroke: #000000; stroke-width: 2.06; stroke-linejoin: miter; stroke-linecap: square"/>
</g>
<g>
<path d="M 82 15.4 L 628.7 15.4" style="fill: none; stroke: #000000; stroke-width: 2.06; stroke-linejoin: miter; stroke-linecap: square"/>
</g>
<g>
<g transform="translate(341.38 494.9)">
<text><tspan x="0 14.02" y="-0.34" style="font-size: 23.3px; font-family: 'DejaVu Sans', sans-serif">P3</tspan><tspan x="28.92" y="-4.26" style="font-size: 23.3px; font-family: 'DejaVu Sans', sans-serif">̄</tspan><tspan x="28.81 43.61" y="-0.34" style="font-size: 23.3px; font-family: 'DejaVu Sans', sans-serif">1c</tspan></text>
</g>
</g>
<g>
<text style="font-size: 23.3px; font-family: 'DejaVu Sans', sans-serif; text-anchor: start" x="413.83" y="494.9">C2/c</text>
</g>
<g>
<g transform="translate(90.41 43.3)">
<text><tspan x="0 13.37 33.43 40.82" y="-0.92" style="font-size: 23.3px; font-family: 'DejaVu Sans', sans-serif">FM, </tspan><tspan x="48.21" y="-0.92" style="font-style: oblique; font-size: 23.3px; font-family: 'DejaVu Sans', sans-serif">U</tspan><tspan x="69.76 93.77 108.56 114.7 129.5 136.89 151.19" y="-0.92" style="font-size: 23.3px; font-family: 'DejaVu Sans', sans-serif">=4.2 eV</tspan></text>
</g>
</g>
<g>
<path d="M 98.06 148.2 L 310.44 148.2 Q 315.1 148.2 315.1 143.54 L 315.1 66.31 Q 315.1 61.65 310.44 61.65 L 98.06 61.65 Q 93.4 61.65 93.4 66.31 L 93.4 143.54 Q 93.4 148.2 98.06 148.2 z" style="fill: #ffffff; opacity: 0.8; stroke: #cccccc; stroke-width: 2.73; stroke-linejoin: miter"/>
</g>
<g>
<path d="M 103 81.3 L 149.6 81.3" style="fill: none; stroke: #7570b3; stroke-width: 3.9; stroke-linecap: square"/>
</g>
<g>
<path d="M 103 120.9 L 149.6 120.9" style="fill: none; stroke: #1b9e77; stroke-width: 3.9; stroke-linecap: square"/>
</g>
<g>
<g>
<path d="M 0 6.99 C 1.85 6.99 3.63 6.25 4.94 4.94 C 6.25 3.63 6.99 1.85 6.99 0 C 6.99 -1.85 6.25 -3.63 4.94 -4.94 C 3.63 -6.25 1.85 -6.99 0 -6.99 C -1.85 -6.99 -3.63 -6.25 -4.94 -4.94 C -6.25 -3.63 -6.99 -1.85 -6.99 0 C -6.99 1.85 -6.25 3.63 -4.94 4.94 C -3.63 6.25 -1.85 6.99 0 6.99 z" transform="translate(126.3 81.3)" style="fill: #7570b3; stroke: #7570b3; stroke-width: 2.73"/>
</g>
</g>
<g>
<g>
<path d="M -6.99 6.99 L 6.99 6.99 L 6.99 -6.99 L -6.99 -6.99 z" transform="translate(126.3 120.9)" style="fill: #1b9e77; stroke: #1b9e77; stroke-width: 2.73; stroke-linejoin: miter"/>
</g>
</g>
<g>
<g transform="translate(168.4 88)">
<text><tspan x="0" y="-0.23" style="font-style: oblique; font-size: 23.3px; font-family: 'DejaVu Sans', sans-serif">E</tspan><tspan x="14.69" y="3.54" style="font-style: oblique; font-size: 16.31px; font-family: 'DejaVu Sans', sans-serif">M</tspan><tspan x="31.9" y="3.54" style="font-size: 16.31px; font-family: 'DejaVu Sans', sans-serif">∥</tspan><tspan x="43.21" y="3.54" style="font-style: oblique; font-size: 16.31px; font-family: 'DejaVu Sans', sans-serif">b</tspan><tspan x="58.7" y="-0.23" style="font-size: 23.3px; font-family: 'DejaVu Sans', sans-serif">−</tspan><tspan x="82.71" y="-0.23" style="font-style: oblique; font-size: 23.3px; font-family: 'DejaVu Sans', sans-serif">E</tspan><tspan x="97.4" y="3.54" style="font-style: oblique; font-size: 16.31px; font-family: 'DejaVu Sans', sans-serif">M</tspan><tspan x="114.61" y="3.54" style="font-size: 16.31px; font-family: 'DejaVu Sans', sans-serif">∥</tspan><tspan x="125.92" y="3.54" style="font-style: oblique; font-size: 16.31px; font-family: 'DejaVu Sans', sans-serif">a</tspan></text>
</g>
</g>
<g>
<g transform="translate(168.4 127.7)">
<text><tspan x="0" y="-0.23" style="font-style: oblique; font-size: 23.3px; font-family: 'DejaVu Sans', sans-serif">E</tspan><tspan x="14.69" y="3.54" style="font-style: oblique; font-size: 16.31px; font-family: 'DejaVu Sans', sans-serif">M</tspan><tspan x="31.9" y="3.54" style="font-size: 16.31px; font-family: 'DejaVu Sans', sans-serif">∥</tspan><tspan x="43.21" y="3.54" style="font-style: oblique; font-size: 16.31px; font-family: 'DejaVu Sans', sans-serif">c</tspan><tspan x="57.32" y="-0.23" style="font-size: 23.3px; font-family: 'DejaVu Sans', sans-serif">−</tspan><tspan x="81.33" y="-0.23" style="font-style: oblique; font-size: 23.3px; font-family: 'DejaVu Sans', sans-serif">E</tspan><tspan x="96.02" y="3.54" style="font-style: oblique; font-size: 16.31px; font-family: 'DejaVu Sans', sans-serif">M</tspan><tspan x="113.23" y="3.54" style="font-size: 16.31px; font-family: 'DejaVu Sans', sans-serif">∥</tspan><tspan x="124.54" y="3.54" style="font-style: oblique; font-size: 16.31px; font-family: 'DejaVu Sans', sans-serif">a</tspan></text>
</g>
</g>
</g>
<g>
<g>
<path d="M 728.2 510.7 L 1274.9 510.7 L 1274.9 15.4 L 728.2 15.4 z" style="fill: #ffffff"/>
</g>
<g>
<path d="M 1052.01 510.7 L 1052.01 15.4" clip-path="url(#p36c99d7f9c)" style="fill: none; stroke: #d3d3d3; stroke-width: 5.06; stroke-linecap: square"/>
</g>
<g>
<path d="M 728.2 461.17 L 1274.9 461.17" clip-path="url(#p36c99d7f9c)" style="fill: none; stroke: #d3d3d3; stroke-width: 5.06; stroke-linecap: square"/>
</g>
<g>
<g>
<g>
<g>
<path d="M 0 0 L 0 -8.15" transform="translate(728.2 510.7)" style="stroke: #000000; stroke-width: 2.06"/>
</g>
</g>
<g>
<text style="font-size: 23.3px; font-family: 'DejaVu Sans', sans-serif; text-anchor: middle" x="728.2" y="536.56">0</text>
</g>
</g>
<g>
<g>
<g>
<path d="M 0 0 L 0 -8.15" transform="translate(833.33 510.7)" style="stroke: #000000; stroke-width: 2.06"/>
</g>
</g>
<g>
<text style="font-size: 23.3px; font-family: 'DejaVu Sans', sans-serif; text-anchor: middle" x="833.33" y="536.56">5</text>
</g>
</g>
<g>
<g>
<g>
<path d="M 0 0 L 0 -8.15" transform="translate(938.47 510.7)" style="stroke: #000000; stroke-width: 2.06"/>
</g>
</g>
<g>
<text style="font-size: 23.3px; font-family: 'DejaVu Sans', sans-serif; text-anchor: middle" x="938.47" y="536.56">10</text>
</g>
</g>
<g>
<g>
<g>
<path d="M 0 0 L 0 -8.15" transform="translate(1043.6 510.7)" style="stroke: #000000; stroke-width: 2.06"/>
</g>
</g>
<g>
<text style="font-size: 23.3px; font-family: 'DejaVu Sans', sans-serif; text-anchor: middle" x="1043.6" y="536.56">15</text>
</g>
</g>
<g>
<g>
<g>
<path d="M 0 0 L 0 -8.15" transform="translate(1148.74 510.7)" style="stroke: #000000; stroke-width: 2.06"/>
</g>
</g>
<g>
<text style="font-size: 23.3px; font-family: 'DejaVu Sans', sans-serif; text-anchor: middle" x="1148.74" y="536.56">20</text>
</g>
</g>
<g>
<g>
<g>
<path d="M 0 0 L 0 -8.15" transform="translate(1253.87 510.7)" style="stroke: #000000; stroke-width: 2.06"/>
</g>
</g>
<g>
<text style="font-size: 23.3px; font-family: 'DejaVu Sans', sans-serif; text-anchor: middle" x="1253.87" y="536.56">25</text>
</g>
</g>
<g>
<g>
<g>
<path d="M 0 0 L 0 -4.66" transform="translate(749.23 510.7)" style="stroke: #000000; stroke-width: 1.6"/>
</g>
</g>
</g>
<g>
<g>
<g>
<path d="M 0 0 L 0 -4.66" transform="translate(770.25 510.7)" style="stroke: #000000; stroke-width: 1.6"/>
</g>
</g>
</g>
<g>
<g>
<g>
<path d="M 0 0 L 0 -4.66" transform="translate(791.28 510.7)" style="stroke: #000000; stroke-width: 1.6"/>
</g>
</g>
</g>
<g>
<g>
<g>
<path d="M 0 0 L 0 -4.66" transform="translate(812.31 510.7)" style="stroke: #000000; stroke-width: 1.6"/>
</g>
</g>
</g>
<g>
<g>
<g>
<path d="M 0 0 L 0 -4.66" transform="translate(854.36 510.7)" style="stroke: #000000; stroke-width: 1.6"/>
</g>
</g>
</g>
<g>
<g>
<g>
<path d="M 0 0 L 0 -4.66" transform="translate(875.39 510.7)" style="stroke: #000000; stroke-width: 1.6"/>
</g>
</g>
</g>
<g>
<g>
<g>
<path d="M 0 0 L 0 -4.66" transform="translate(896.42 510.7)" style="stroke: #000000; stroke-width: 1.6"/>
</g>
</g>
</g>
<g>
<g>
<g>
<path d="M 0 0 L 0 -4.66" transform="translate(917.44 510.7)" style="stroke: #000000; stroke-width: 1.6"/>
</g>
</g>
</g>
<g>
<g>
<g>
<path d="M 0 0 L 0 -4.66" transform="translate(959.5 510.7)" style="stroke: #000000; stroke-width: 1.6"/>
</g>
</g>
</g>
<g>
<g>
<g>
<path d="M 0 0 L 0 -4.66" transform="translate(980.52 510.7)" style="stroke: #000000; stroke-width: 1.6"/>
</g>
</g>
</g>
<g>
<g>
<g>
<path d="M 0 0 L 0 -4.66" transform="translate(1001.55 510.7)" style="stroke: #000000; stroke-width: 1.6"/>
</g>
</g>
</g>
<g>
<g>
<g>
<path d="M 0 0 L 0 -4.66" transform="translate(1022.58 510.7)" style="stroke: #000000; stroke-width: 1.6"/>
</g>
</g>
</g>
<g>
<g>
<g>
<path d="M 0 0 L 0 -4.66" transform="translate(1064.63 510.7)" style="stroke: #000000; stroke-width: 1.6"/>
</g>
</g>
</g>
<g>
<g>
<g>
<path d="M 0 0 L 0 -4.66" transform="translate(1085.66 510.7)" style="stroke: #000000; stroke-width: 1.6"/>
</g>
</g>
</g>
<g>
<g>
<g>
<path d="M 0 0 L 0 -4.66" transform="translate(1106.68 510.7)" style="stroke: #000000; stroke-width: 1.6"/>
</g>
</g>
</g>
<g>
<g>
<g>
<path d="M 0 0 L 0 -4.66" transform="translate(1127.71 510.7)" style="stroke: #000000; stroke-width: 1.6"/>
</g>
</g>
</g>
<g>
<g>
<g>
<path d="M 0 0 L 0 -4.66" transform="translate(1169.77 510.7)" style="stroke: #000000; stroke-width: 1.6"/>
</g>
</g>
</g>
<g>
<g>
<g>
<path d="M 0 0 L 0 -4.66" transform="translate(1190.79 510.7)" style="stroke: #000000; stroke-width: 1.6"/>
</g>
</g>
</g>
<g>
<g>
<g>
<path d="M 0 0 L 0 -4.66" transform="translate(1211.82 510.7)" style="stroke: #000000; stroke-width: 1.6"/>
</g>
</g>
</g>
<g>
<g>
<g>
<path d="M 0 0 L 0 -4.66" transform="translate(1232.85 510.7)" style="stroke: #000000; stroke-width: 1.6"/>
</g>
</g>
</g>
<g>
<g>
<g>
<path d="M 0 0 L 0 -4.66" transform="translate(1274.9 510.7)" style="stroke: #000000; stroke-width: 1.6"/>
</g>
</g>
</g>
<g>
<g transform="translate(958.45 568.43)">
<text><tspan x="0" y="-0.55" style="font-style: oblique; font-size: 23.3px; font-family: 'DejaVu Sans', sans-serif">P</tspan><tspan x="14.02 21.41 30.48 48.5 62.52 76.77" y="-0.55" style="font-size: 23.3px; font-family: 'DejaVu Sans', sans-serif"> (GPa)</tspan></text>
</g>
</g>
</g>
<g>
<g>
<g>
<g>
<path d="M 0 0 L 8.15 0" transform="translate(728.2 461.17)" style="stroke: #000000; stroke-width: 2.06"/>
</g>
</g>
<g>
<text style="font-size: 23.3px; font-family: 'DejaVu Sans', sans-serif; text-anchor: end" x="720.04" y="470.02">0</text>
</g>
</g>
<g>
<g>
<g>
<path d="M 0 0 L 8.15 0" transform="translate(728.2 362.11)" style="stroke: #000000; stroke-width: 2.06"/>
</g>
</g>
<g>
<text style="font-size: 23.3px; font-family: 'DejaVu Sans', sans-serif; text-anchor: end" x="720.04" y="370.96">1</text>
</g>
</g>
<g>
<g>
<g>
<path d="M 0 0 L 8.15 0" transform="translate(728.2 263.05)" style="stroke: #000000; stroke-width: 2.06"/>
</g>
</g>
<g>
<text style="font-size: 23.3px; font-family: 'DejaVu Sans', sans-serif; text-anchor: end" x="720.04" y="271.9">2</text>
</g>
</g>
<g>
<g>
<g>
<path d="M 0 0 L 8.15 0" transform="translate(728.2 163.99)" style="stroke: #000000; stroke-width: 2.06"/>
</g>
</g>
<g>
<text style="font-size: 23.3px; font-family: 'DejaVu Sans', sans-serif; text-anchor: end" x="720.04" y="172.84">3</text>
</g>
</g>
<g>
<g>
<g>
<path d="M 0 0 L 8.15 0" transform="translate(728.2 64.93)" style="stroke: #000000; stroke-width: 2.06"/>
</g>
</g>
<g>
<text style="font-size: 23.3px; font-family: 'DejaVu Sans', sans-serif; text-anchor: end" x="720.04" y="73.78">4</text>
</g>
</g>
<g>
<g>
<g>
<path d="M 0 0 L 4.66 0" transform="translate(728.2 510.7)" style="stroke: #000000; stroke-width: 1.6"/>
</g>
</g>
</g>
<g>
<g>
<g>
<path d="M 0 0 L 4.66 0" transform="translate(728.2 411.64)" style="stroke: #000000; stroke-width: 1.6"/>
</g>
</g>
</g>
<g>
<g>
<g>
<path d="M 0 0 L 4.66 0" transform="translate(728.2 312.58)" style="stroke: #000000; stroke-width: 1.6"/>
</g>
</g>
</g>
<g>
<g>
<g>
<path d="M 0 0 L 4.66 0" transform="translate(728.2 213.52)" style="stroke: #000000; stroke-width: 1.6"/>
</g>
</g>
</g>
<g>
<g>
<g>
<path d="M 0 0 L 4.66 0" transform="translate(728.2 114.46)" style="stroke: #000000; stroke-width: 1.6"/>
</g>
</g>
</g>
<g>
<g>
<g>
<path d="M 0 0 L 4.66 0" transform="translate(728.2 15.4)" style="stroke: #000000; stroke-width: 1.6"/>
</g>
</g>
</g>
<g>
<g transform="translate(690.55 304.41) rotate(-90)">
<text><tspan x="0" y="-0.55" style="font-style: oblique; font-size: 23.3px; font-family: 'DejaVu Sans', sans-serif">E</tspan><tspan x="14.69 25.02 29.82" y="3.23" style="font-size: 16.31px; font-family: 'DejaVu Sans', sans-serif">SIA</tspan><tspan x="41.58 48.97 58.04 73.29" y="-0.55" style="font-size: 23.3px; font-family: 'DejaVu Sans', sans-serif"> (K)</tspan></text>
</g>
</g>
</g>
<g>
<path d="M 728.2 461.17 L 749.23 461.17 L 770.25 461.17 L 791.28 461.17 L 812.31 461.17 L 833.33 461.17 L 854.36 461.17 L 875.39 461.17 L 896.42 461.17 L 917.44 461.17 L 938.47 461.17 L 959.5 461.17 L 980.52 461.17 L 1001.55 461.17 L 1022.58 461.17 L 1043.6 461.17 L 1052.01 461.17" style="fill: none; stroke: #7570b3; stroke-width: 3.9; stroke-linecap: square"/>
<g>
<path d="M 0 6.99 C 1.85 6.99 3.63 6.25 4.94 4.94 C 6.25 3.63 6.99 1.85 6.99 0 C 6.99 -1.85 6.25 -3.63 4.94 -4.94 C 3.63 -6.25 1.85 -6.99 0 -6.99 C -1.85 -6.99 -3.63 -6.25 -4.94 -4.94 C -6.25 -3.63 -6.99 -1.85 -6.99 0 C -6.99 1.85 -6.25 3.63 -4.94 4.94 C -3.63 6.25 -1.85 6.99 0 6.99 z" transform="translate(728.2 461.17)" style="fill: #7570b3; stroke: #7570b3; stroke-width: 2.73"/>
<path d="M 0 6.99 C 1.85 6.99 3.63 6.25 4.94 4.94 C 6.25 3.63 6.99 1.85 6.99 0 C 6.99 -1.85 6.25 -3.63 4.94 -4.94 C 3.63 -6.25 1.85 -6.99 0 -6.99 C -1.85 -6.99 -3.63 -6.25 -4.94 -4.94 C -6.25 -3.63 -6.99 -1.85 -6.99 0 C -6.99 1.85 -6.25 3.63 -4.94 4.94 C -3.63 6.25 -1.85 6.99 0 6.99 z" transform="translate(749.23 461.17)" style="fill: #7570b3; stroke: #7570b3; stroke-width: 2.73"/>
<path d="M 0 6.99 C 1.85 6.99 3.63 6.25 4.94 4.94 C 6.25 3.63 6.99 1.85 6.99 0 C 6.99 -1.85 6.25 -3.63 4.94 -4.94 C 3.63 -6.25 1.85 -6.99 0 -6.99 C -1.85 -6.99 -3.63 -6.25 -4.94 -4.94 C -6.25 -3.63 -6.99 -1.85 -6.99 0 C -6.99 1.85 -6.25 3.63 -4.94 4.94 C -3.63 6.25 -1.85 6.99 0 6.99 z" transform="translate(770.25 461.17)" style="fill: #7570b3; stroke: #7570b3; stroke-width: 2.73"/>
<path d="M 0 6.99 C 1.85 6.99 3.63 6.25 4.94 4.94 C 6.25 3.63 6.99 1.85 6.99 0 C 6.99 -1.85 6.25 -3.63 4.94 -4.94 C 3.63 -6.25 1.85 -6.99 0 -6.99 C -1.85 -6.99 -3.63 -6.25 -4.94 -4.94 C -6.25 -3.63 -6.99 -1.85 -6.99 0 C -6.99 1.85 -6.25 3.63 -4.94 4.94 C -3.63 6.25 -1.85 6.99 0 6.99 z" transform="translate(791.28 461.17)" style="fill: #7570b3; stroke: #7570b3; stroke-width: 2.73"/>
<path d="M 0 6.99 C 1.85 6.99 3.63 6.25 4.94 4.94 C 6.25 3.63 6.99 1.85 6.99 0 C 6.99 -1.85 6.25 -3.63 4.94 -4.94 C 3.63 -6.25 1.85 -6.99 0 -6.99 C -1.85 -6.99 -3.63 -6.25 -4.94 -4.94 C -6.25 -3.63 -6.99 -1.85 -6.99 0 C -6.99 1.85 -6.25 3.63 -4.94 4.94 C -3.63 6.25 -1.85 6.99 0 6.99 z" transform="translate(812.31 461.17)" style="fill: #7570b3; stroke: #7570b3; stroke-width: 2.73"/>
<path d="M 0 6.99 C 1.85 6.99 3.63 6.25 4.94 4.94 C 6.25 3.63 6.99 1.85 6.99 0 C 6.99 -1.85 6.25 -3.63 4.94 -4.94 C 3.63 -6.25 1.85 -6.99 0 -6.99 C -1.85 -6.99 -3.63 -6.25 -4.94 -4.94 C -6.25 -3.63 -6.99 -1.85 -6.99 0 C -6.99 1.85 -6.25 3.63 -4.94 4.94 C -3.63 6.25 -1.85 6.99 0 6.99 z" transform="translate(833.33 461.17)" style="fill: #7570b3; stroke: #7570b3; stroke-width: 2.73"/>
<path d="M 0 6.99 C 1.85 6.99 3.63 6.25 4.94 4.94 C 6.25 3.63 6.99 1.85 6.99 0 C 6.99 -1.85 6.25 -3.63 4.94 -4.94 C 3.63 -6.25 1.85 -6.99 0 -6.99 C -1.85 -6.99 -3.63 -6.25 -4.94 -4.94 C -6.25 -3.63 -6.99 -1.85 -6.99 0 C -6.99 1.85 -6.25 3.63 -4.94 4.94 C -3.63 6.25 -1.85 6.99 0 6.99 z" transform="translate(854.36 461.17)" style="fill: #7570b3; stroke: #7570b3; stroke-width: 2.73"/>
<path d="M 0 6.99 C 1.85 6.99 3.63 6.25 4.94 4.94 C 6.25 3.63 6.99 1.85 6.99 0 C 6.99 -1.85 6.25 -3.63 4.94 -4.94 C 3.63 -6.25 1.85 -6.99 0 -6.99 C -1.85 -6.99 -3.63 -6.25 -4.94 -4.94 C -6.25 -3.63 -6.99 -1.85 -6.99 0 C -6.99 1.85 -6.25 3.63 -4.94 4.94 C -3.63 6.25 -1.85 6.99 0 6.99 z" transform="translate(875.39 461.17)" style="fill: #7570b3; stroke: #7570b3; stroke-width: 2.73"/>
<path d="M 0 6.99 C 1.85 6.99 3.63 6.25 4.94 4.94 C 6.25 3.63 6.99 1.85 6.99 0 C 6.99 -1.85 6.25 -3.63 4.94 -4.94 C 3.63 -6.25 1.85 -6.99 0 -6.99 C -1.85 -6.99 -3.63 -6.25 -4.94 -4.94 C -6.25 -3.63 -6.99 -1.85 -6.99 0 C -6.99 1.85 -6.25 3.63 -4.94 4.94 C -3.63 6.25 -1.85 6.99 0 6.99 z" transform="translate(896.42 461.17)" style="fill: #7570b3; stroke: #7570b3; stroke-width: 2.73"/>
<path d="M 0 6.99 C 1.85 6.99 3.63 6.25 4.94 4.94 C 6.25 3.63 6.99 1.85 6.99 0 C 6.99 -1.85 6.25 -3.63 4.94 -4.94 C 3.63 -6.25 1.85 -6.99 0 -6.99 C -1.85 -6.99 -3.63 -6.25 -4.94 -4.94 C -6.25 -3.63 -6.99 -1.85 -6.99 0 C -6.99 1.85 -6.25 3.63 -4.94 4.94 C -3.63 6.25 -1.85 6.99 0 6.99 z" transform="translate(917.44 461.17)" style="fill: #7570b3; stroke: #7570b3; stroke-width: 2.73"/>
<path d="M 0 6.99 C 1.85 6.99 3.63 6.25 4.94 4.94 C 6.25 3.63 6.99 1.85 6.99 0 C 6.99 -1.85 6.25 -3.63 4.94 -4.94 C 3.63 -6.25 1.85 -6.99 0 -6.99 C -1.85 -6.99 -3.63 -6.25 -4.94 -4.94 C -6.25 -3.63 -6.99 -1.85 -6.99 0 C -6.99 1.85 -6.25 3.63 -4.94 4.94 C -3.63 6.25 -1.85 6.99 0 6.99 z" transform="translate(938.47 461.17)" style="fill: #7570b3; stroke: #7570b3; stroke-width: 2.73"/>
<path d="M 0 6.99 C 1.85 6.99 3.63 6.25 4.94 4.94 C 6.25 3.63 6.99 1.85 6.99 0 C 6.99 -1.85 6.25 -3.63 4.94 -4.94 C 3.63 -6.25 1.85 -6.99 0 -6.99 C -1.85 -6.99 -3.63 -6.25 -4.94 -4.94 C -6.25 -3.63 -6.99 -1.85 -6.99 0 C -6.99 1.85 -6.25 3.63 -4.94 4.94 C -3.63 6.25 -1.85 6.99 0 6.99 z" transform="translate(959.5 461.17)" style="fill: #7570b3; stroke: #7570b3; stroke-width: 2.73"/>
<path d="M 0 6.99 C 1.85 6.99 3.63 6.25 4.94 4.94 C 6.25 3.63 6.99 1.85 6.99 0 C 6.99 -1.85 6.25 -3.63 4.94 -4.94 C 3.63 -6.25 1.85 -6.99 0 -6.99 C -1.85 -6.99 -3.63 -6.25 -4.94 -4.94 C -6.25 -3.63 -6.99 -1.85 -6.99 0 C -6.99 1.85 -6.25 3.63 -4.94 4.94 C -3.63 6.25 -1.85 6.99 0 6.99 z" transform="translate(980.52 461.17)" style="fill: #7570b3; stroke: #7570b3; stroke-width: 2.73"/>
<path d="M 0 6.99 C 1.85 6.99 3.63 6.25 4.94 4.94 C 6.25 3.63 6.99 1.85 6.99 0 C 6.99 -1.85 6.25 -3.63 4.94 -4.94 C 3.63 -6.25 1.85 -6.99 0 -6.99 C -1.85 -6.99 -3.63 -6.25 -4.94 -4.94 C -6.25 -3.63 -6.99 -1.85 -6.99 0 C -6.99 1.85 -6.25 3.63 -4.94 4.94 C -3.63 6.25 -1.85 6.99 0 6.99 z" transform="translate(1001.55 461.17)" style="fill: #7570b3; stroke: #7570b3; stroke-width: 2.73"/>
<path d="M 0 6.99 C 1.85 6.99 3.63 6.25 4.94 4.94 C 6.25 3.63 6.99 1.85 6.99 0 C 6.99 -1.85 6.25 -3.63 4.94 -4.94 C 3.63 -6.25 1.85 -6.99 0 -6.99 C -1.85 -6.99 -3.63 -6.25 -4.94 -4.94 C -6.25 -3.63 -6.99 -1.85 -6.99 0 C -6.99 1.85 -6.25 3.63 -4.94 4.94 C -3.63 6.25 -1.85 6.99 0 6.99 z" transform="translate(1022.58 461.17)" style="fill: #7570b3; stroke: #7570b3; stroke-width: 2.73"/>
<path d="M 0 6.99 C 1.85 6.99 3.63 6.25 4.94 4.94 C 6.25 3.63 6.99 1.85 6.99 0 C 6.99 -1.85 6.25 -3.63 4.94 -4.94 C 3.63 -6.25 1.85 -6.99 0 -6.99 C -1.85 -6.99 -3.63 -6.25 -4.94 -4.94 C -6.25 -3.63 -6.99 -1.85 -6.99 0 C -6.99 1.85 -6.25 3.63 -4.94 4.94 C -3.63 6.25 -1.85 6.99 0 6.99 z" transform="translate(1043.6 461.17)" style="fill: #7570b3; stroke: #7570b3; stroke-width: 2.73"/>
<path d="M 0 6.99 C 1.85 6.99 3.63 6.25 4.94 4.94 C 6.25 3.63 6.99 1.85 6.99 0 C 6.99 -1.85 6.25 -3.63 4.94 -4.94 C 3.63 -6.25 1.85 -6.99 0 -6.99 C -1.85 -6.99 -3.63 -6.25 -4.94 -4.94 C -6.25 -3.63 -6.99 -1.85 -6.99 0 C -6.99 1.85 -6.25 3.63 -4.94 4.94 C -3.63 6.25 -1.85 6.99 0 6.99 z" transform="translate(1052.01 461.17)" style="fill: #7570b3; stroke: #7570b3; stroke-width: 2.73"/>
</g>
</g>
<g>
<path d="M 1052.01 412.89 L 1064.63 411.79 L 1085.66 410.85 L 1106.68 409.91 L 1127.71 409.76 L 1148.74 409.91 L 1169.77 411.01 L 1190.79 412.89 L 1211.82 414.93 L 1232.85 417.75 L 1253.87 421.35" style="fill: none; stroke: #7570b3; stroke-width: 3.9; stroke-linecap: square"/>
<g>
<path d="M 0 6.99 C 1.85 6.99 3.63 6.25 4.94 4.94 C 6.25 3.63 6.99 1.85 6.99 0 C 6.99 -1.85 6.25 -3.63 4.94 -4.94 C 3.63 -6.25 1.85 -6.99 0 -6.99 C -1.85 -6.99 -3.63 -6.25 -4.94 -4.94 C -6.25 -3.63 -6.99 -1.85 -6.99 0 C -6.99 1.85 -6.25 3.63 -4.94 4.94 C -3.63 6.25 -1.85 6.99 0 6.99 z" transform="translate(1052.01 412.89)" style="fill: #ffffff; stroke: #7570b3; stroke-width: 2.73"/>
<path d="M 0 6.99 C 1.85 6.99 3.63 6.25 4.94 4.94 C 6.25 3.63 6.99 1.85 6.99 0 C 6.99 -1.85 6.25 -3.63 4.94 -4.94 C 3.63 -6.25 1.85 -6.99 0 -6.99 C -1.85 -6.99 -3.63 -6.25 -4.94 -4.94 C -6.25 -3.63 -6.99 -1.85 -6.99 0 C -6.99 1.85 -6.25 3.63 -4.94 4.94 C -3.63 6.25 -1.85 6.99 0 6.99 z" transform="translate(1064.63 411.79)" style="fill: #ffffff; stroke: #7570b3; stroke-width: 2.73"/>
<path d="M 0 6.99 C 1.85 6.99 3.63 6.25 4.94 4.94 C 6.25 3.63 6.99 1.85 6.99 0 C 6.99 -1.85 6.25 -3.63 4.94 -4.94 C 3.63 -6.25 1.85 -6.99 0 -6.99 C -1.85 -6.99 -3.63 -6.25 -4.94 -4.94 C -6.25 -3.63 -6.99 -1.85 -6.99 0 C -6.99 1.85 -6.25 3.63 -4.94 4.94 C -3.63 6.25 -1.85 6.99 0 6.99 z" transform="translate(1085.66 410.85)" style="fill: #ffffff; stroke: #7570b3; stroke-width: 2.73"/>
<path d="M 0 6.99 C 1.85 6.99 3.63 6.25 4.94 4.94 C 6.25 3.63 6.99 1.85 6.99 0 C 6.99 -1.85 6.25 -3.63 4.94 -4.94 C 3.63 -6.25 1.85 -6.99 0 -6.99 C -1.85 -6.99 -3.63 -6.25 -4.94 -4.94 C -6.25 -3.63 -6.99 -1.85 -6.99 0 C -6.99 1.85 -6.25 3.63 -4.94 4.94 C -3.63 6.25 -1.85 6.99 0 6.99 z" transform="translate(1106.68 409.91)" style="fill: #ffffff; stroke: #7570b3; stroke-width: 2.73"/>
<path d="M 0 6.99 C 1.85 6.99 3.63 6.25 4.94 4.94 C 6.25 3.63 6.99 1.85 6.99 0 C 6.99 -1.85 6.25 -3.63 4.94 -4.94 C 3.63 -6.25 1.85 -6.99 0 -6.99 C -1.85 -6.99 -3.63 -6.25 -4.94 -4.94 C -6.25 -3.63 -6.99 -1.85 -6.99 0 C -6.99 1.85 -6.25 3.63 -4.94 4.94 C -3.63 6.25 -1.85 6.99 0 6.99 z" transform="translate(1127.71 409.76)" style="fill: #ffffff; stroke: #7570b3; stroke-width: 2.73"/>
<path d="M 0 6.99 C 1.85 6.99 3.63 6.25 4.94 4.94 C 6.25 3.63 6.99 1.85 6.99 0 C 6.99 -1.85 6.25 -3.63 4.94 -4.94 C 3.63 -6.25 1.85 -6.99 0 -6.99 C -1.85 -6.99 -3.63 -6.25 -4.94 -4.94 C -6.25 -3.63 -6.99 -1.85 -6.99 0 C -6.99 1.85 -6.25 3.63 -4.94 4.94 C -3.63 6.25 -1.85 6.99 0 6.99 z" transform="translate(1148.74 409.91)" style="fill: #ffffff; stroke: #7570b3; stroke-width: 2.73"/>
<path d="M 0 6.99 C 1.85 6.99 3.63 6.25 4.94 4.94 C 6.25 3.63 6.99 1.85 6.99 0 C 6.99 -1.85 6.25 -3.63 4.94 -4.94 C 3.63 -6.25 1.85 -6.99 0 -6.99 C -1.85 -6.99 -3.63 -6.25 -4.94 -4.94 C -6.25 -3.63 -6.99 -1.85 -6.99 0 C -6.99 1.85 -6.25 3.63 -4.94 4.94 C -3.63 6.25 -1.85 6.99 0 6.99 z" transform="translate(1169.77 411.01)" style="fill: #ffffff; stroke: #7570b3; stroke-width: 2.73"/>
<path d="M 0 6.99 C 1.85 6.99 3.63 6.25 4.94 4.94 C 6.25 3.63 6.99 1.85 6.99 0 C 6.99 -1.85 6.25 -3.63 4.94 -4.94 C 3.63 -6.25 1.85 -6.99 0 -6.99 C -1.85 -6.99 -3.63 -6.25 -4.94 -4.94 C -6.25 -3.63 -6.99 -1.85 -6.99 0 C -6.99 1.85 -6.25 3.63 -4.94 4.94 C -3.63 6.25 -1.85 6.99 0 6.99 z" transform="translate(1190.79 412.89)" style="fill: #ffffff; stroke: #7570b3; stroke-width: 2.73"/>
<path d="M 0 6.99 C 1.85 6.99 3.63 6.25 4.94 4.94 C 6.25 3.63 6.99 1.85 6.99 0 C 6.99 -1.85 6.25 -3.63 4.94 -4.94 C 3.63 -6.25 1.85 -6.99 0 -6.99 C -1.85 -6.99 -3.63 -6.25 -4.94 -4.94 C -6.25 -3.63 -6.99 -1.85 -6.99 0 C -6.99 1.85 -6.25 3.63 -4.94 4.94 C -3.63 6.25 -1.85 6.99 0 6.99 z" transform="translate(1211.82 414.93)" style="fill: #ffffff; stroke: #7570b3; stroke-width: 2.73"/>
<path d="M 0 6.99 C 1.85 6.99 3.63 6.25 4.94 4.94 C 6.25 3.63 6.99 1.85 6.99 0 C 6.99 -1.85 6.25 -3.63 4.94 -4.94 C 3.63 -6.25 1.85 -6.99 0 -6.99 C -1.85 -6.99 -3.63 -6.25 -4.94 -4.94 C -6.25 -3.63 -6.99 -1.85 -6.99 0 C -6.99 1.85 -6.25 3.63 -4.94 4.94 C -3.63 6.25 -1.85 6.99 0 6.99 z" transform="translate(1232.85 417.75)" style="fill: #ffffff; stroke: #7570b3; stroke-width: 2.73"/>
<path d="M 0 6.99 C 1.85 6.99 3.63 6.25 4.94 4.94 C 6.25 3.63 6.99 1.85 6.99 0 C 6.99 -1.85 6.25 -3.63 4.94 -4.94 C 3.63 -6.25 1.85 -6.99 0 -6.99 C -1.85 -6.99 -3.63 -6.25 -4.94 -4.94 C -6.25 -3.63 -6.99 -1.85 -6.99 0 C -6.99 1.85 -6.25 3.63 -4.94 4.94 C -3.63 6.25 -1.85 6.99 0 6.99 z" transform="translate(1253.87 421.35)" style="fill: #ffffff; stroke: #7570b3; stroke-width: 2.73"/>
</g>
</g>
<g>
<path d="M 728.2 335.2 L 749.23 328.38 L 770.25 322.88 L 791.28 318.06 L 812.31 314.2 L 833.33 310 L 854.36 306.51 L 875.39 302.92 L 896.42 299.01 L 917.44 295.34 L 938.47 290.98 L 959.5 286.33 L 980.52 283.16 L 1001.55 280.48 L 1022.58 278.6 L 1043.6 275.53 L 1052.01 273.1" style="fill: none; stroke: #1b9e77; stroke-width: 3.9; stroke-linecap: square"/>
<g>
<path d="M -6.99 6.99 L 6.99 6.99 L 6.99 -6.99 L -6.99 -6.99 z" transform="translate(728.2 335.2)" style="fill: #1b9e77; stroke: #1b9e77; stroke-width: 2.73; stroke-linejoin: miter"/>
<path d="M -6.99 6.99 L 6.99 6.99 L 6.99 -6.99 L -6.99 -6.99 z" transform="translate(749.23 328.38)" style="fill: #1b9e77; stroke: #1b9e77; stroke-width: 2.73; stroke-linejoin: miter"/>
<path d="M -6.99 6.99 L 6.99 6.99 L 6.99 -6.99 L -6.99 -6.99 z" transform="translate(770.25 322.88)" style="fill: #1b9e77; stroke: #1b9e77; stroke-width: 2.73; stroke-linejoin: miter"/>
<path d="M -6.99 6.99 L 6.99 6.99 L 6.99 -6.99 L -6.99 -6.99 z" transform="translate(791.28 318.06)" style="fill: #1b9e77; stroke: #1b9e77; stroke-width: 2.73; stroke-linejoin: miter"/>
<path d="M -6.99 6.99 L 6.99 6.99 L 6.99 -6.99 L -6.99 -6.99 z" transform="translate(812.31 314.2)" style="fill: #1b9e77; stroke: #1b9e77; stroke-width: 2.73; stroke-linejoin: miter"/>
<path d="M -6.99 6.99 L 6.99 6.99 L 6.99 -6.99 L -6.99 -6.99 z" transform="translate(833.33 310)" style="fill: #1b9e77; stroke: #1b9e77; stroke-width: 2.73; stroke-linejoin: miter"/>
<path d="M -6.99 6.99 L 6.99 6.99 L 6.99 -6.99 L -6.99 -6.99 z" transform="translate(854.36 306.51)" style="fill: #1b9e77; stroke: #1b9e77; stroke-width: 2.73; stroke-linejoin: miter"/>
<path d="M -6.99 6.99 L 6.99 6.99 L 6.99 -6.99 L -6.99 -6.99 z" transform="translate(875.39 302.92)" style="fill: #1b9e77; stroke: #1b9e77; stroke-width: 2.73; stroke-linejoin: miter"/>
<path d="M -6.99 6.99 L 6.99 6.99 L 6.99 -6.99 L -6.99 -6.99 z" transform="translate(896.42 299.01)" style="fill: #1b9e77; stroke: #1b9e77; stroke-width: 2.73; stroke-linejoin: miter"/>
<path d="M -6.99 6.99 L 6.99 6.99 L 6.99 -6.99 L -6.99 -6.99 z" transform="translate(917.44 295.34)" style="fill: #1b9e77; stroke: #1b9e77; stroke-width: 2.73; stroke-linejoin: miter"/>
<path d="M -6.99 6.99 L 6.99 6.99 L 6.99 -6.99 L -6.99 -6.99 z" transform="translate(938.47 290.98)" style="fill: #1b9e77; stroke: #1b9e77; stroke-width: 2.73; stroke-linejoin: miter"/>
<path d="M -6.99 6.99 L 6.99 6.99 L 6.99 -6.99 L -6.99 -6.99 z" transform="translate(959.5 286.33)" style="fill: #1b9e77; stroke: #1b9e77; stroke-width: 2.73; stroke-linejoin: miter"/>
<path d="M -6.99 6.99 L 6.99 6.99 L 6.99 -6.99 L -6.99 -6.99 z" transform="translate(980.52 283.16)" style="fill: #1b9e77; stroke: #1b9e77; stroke-width: 2.73; stroke-linejoin: miter"/>
<path d="M -6.99 6.99 L 6.99 6.99 L 6.99 -6.99 L -6.99 -6.99 z" transform="translate(1001.55 280.48)" style="fill: #1b9e77; stroke: #1b9e77; stroke-width: 2.73; stroke-linejoin: miter"/>
<path d="M -6.99 6.99 L 6.99 6.99 L 6.99 -6.99 L -6.99 -6.99 z" transform="translate(1022.58 278.6)" style="fill: #1b9e77; stroke: #1b9e77; stroke-width: 2.73; stroke-linejoin: miter"/>
<path d="M -6.99 6.99 L 6.99 6.99 L 6.99 -6.99 L -6.99 -6.99 z" transform="translate(1043.6 275.53)" style="fill: #1b9e77; stroke: #1b9e77; stroke-width: 2.73; stroke-linejoin: miter"/>
<path d="M -6.99 6.99 L 6.99 6.99 L 6.99 -6.99 L -6.99 -6.99 z" transform="translate(1052.01 273.1)" style="fill: #1b9e77; stroke: #1b9e77; stroke-width: 2.73; stroke-linejoin: miter"/>
</g>
</g>
<g>
<path d="M 1052.01 134.47 L 1064.63 129.42 L 1085.66 125.16 L 1106.68 125.06 L 1127.71 128.13 L 1148.74 131.89 L 1169.77 136.35 L 1190.79 140.51 L 1211.82 145.07 L 1232.85 149.92 L 1253.87 156.66" style="fill: none; stroke: #1b9e77; stroke-width: 3.9; stroke-linecap: square"/>
<g>
<path d="M -6.99 6.99 L 6.99 6.99 L 6.99 -6.99 L -6.99 -6.99 z" transform="translate(1052.01 134.47)" style="fill: #ffffff; stroke: #1b9e77; stroke-width: 2.73; stroke-linejoin: miter"/>
<path d="M -6.99 6.99 L 6.99 6.99 L 6.99 -6.99 L -6.99 -6.99 z" transform="translate(1064.63 129.42)" style="fill: #ffffff; stroke: #1b9e77; stroke-width: 2.73; stroke-linejoin: miter"/>
<path d="M -6.99 6.99 L 6.99 6.99 L 6.99 -6.99 L -6.99 -6.99 z" transform="translate(1085.66 125.16)" style="fill: #ffffff; stroke: #1b9e77; stroke-width: 2.73; stroke-linejoin: miter"/>
<path d="M -6.99 6.99 L 6.99 6.99 L 6.99 -6.99 L -6.99 -6.99 z" transform="translate(1106.68 125.06)" style="fill: #ffffff; stroke: #1b9e77; stroke-width: 2.73; stroke-linejoin: miter"/>
<path d="M -6.99 6.99 L 6.99 6.99 L 6.99 -6.99 L -6.99 -6.99 z" transform="translate(1127.71 128.13)" style="fill: #ffffff; stroke: #1b9e77; stroke-width: 2.73; stroke-linejoin: miter"/>
<path d="M -6.99 6.99 L 6.99 6.99 L 6.99 -6.99 L -6.99 -6.99 z" transform="translate(1148.74 131.89)" style="fill: #ffffff; stroke: #1b9e77; stroke-width: 2.73; stroke-linejoin: miter"/>
<path d="M -6.99 6.99 L 6.99 6.99 L 6.99 -6.99 L -6.99 -6.99 z" transform="translate(1169.77 136.35)" style="fill: #ffffff; stroke: #1b9e77; stroke-width: 2.73; stroke-linejoin: miter"/>
<path d="M -6.99 6.99 L 6.99 6.99 L 6.99 -6.99 L -6.99 -6.99 z" transform="translate(1190.79 140.51)" style="fill: #ffffff; stroke: #1b9e77; stroke-width: 2.73; stroke-linejoin: miter"/>
<path d="M -6.99 6.99 L 6.99 6.99 L 6.99 -6.99 L -6.99 -6.99 z" transform="translate(1211.82 145.07)" style="fill: #ffffff; stroke: #1b9e77; stroke-width: 2.73; stroke-linejoin: miter"/>
<path d="M -6.99 6.99 L 6.99 6.99 L 6.99 -6.99 L -6.99 -6.99 z" transform="translate(1232.85 149.92)" style="fill: #ffffff; stroke: #1b9e77; stroke-width: 2.73; stroke-linejoin: miter"/>
<path d="M -6.99 6.99 L 6.99 6.99 L 6.99 -6.99 L -6.99 -6.99 z" transform="translate(1253.87 156.66)" style="fill: #ffffff; stroke: #1b9e77; stroke-width: 2.73; stroke-linejoin: miter"/>
</g>
</g>
<g>
<g>
<path d="M 0 -10 L -10 10 L 10 10 z" transform="translate(1169.77 168.73)" style="fill: #66a61e; stroke: #ffffff; stroke-width: 1.93; stroke-linejoin: miter"/>
<path d="M 0 -10 L -10 10 L 10 10 z" transform="translate(1096.17 248.38)" style="fill: #66a61e; stroke: #ffffff; stroke-width: 1.93; stroke-linejoin: miter"/>
<path d="M 0 -10 L -10 10 L 10 10 z" transform="translate(1068.84 301.64)" style="fill: #66a61e; stroke: #ffffff; stroke-width: 1.93; stroke-linejoin: miter"/>
<path d="M 0 -10 L -10 10 L 10 10 z" transform="translate(1115.1 301.64)" style="fill: #66a61e; stroke: #ffffff; stroke-width: 1.93; stroke-linejoin: miter"/>
</g>
</g>
<g>
<g>
<path d="M -3.33 10 L 3.33 10 L 3.33 3.33 L 10 3.33 L 10 -3.33 L 3.33 -3.33 L 3.33 -10 L -3.33 -10 L -3.33 -3.33 L -10 -3.33 L -10 3.33 L -3.33 3.33 z" transform="translate(1024.47 278.19)" style="fill: #d95f02; stroke: #ffffff; stroke-width: 1.93; stroke-linejoin: miter"/>
</g>
</g>
<g>
<g>
<path d="M -5 10 L 0 5 L 5 10 L 10 5 L 5 0 L 10 -5 L 5 -10 L 0 -5 L -5 -10 L -10 -5 L -5 0 L -10 5 z" transform="translate(890.11 311.46)" style="fill: #e7298a; stroke: #ffffff; stroke-width: 1.93; stroke-linejoin: miter"/>
<path d="M -5 10 L 0 5 L 5 10 L 10 5 L 5 0 L 10 -5 L 5 -10 L 0 -5 L -5 -10 L -10 -5 L -5 0 L -10 5 z" transform="translate(1081.45 161.75)" style="fill: #e7298a; stroke: #ffffff; stroke-width: 1.93; stroke-linejoin: miter"/>
</g>
</g>
<g>
<path d="M 728.2 510.7 L 728.2 15.4" style="fill: none; stroke: #000000; stroke-width: 2.06; stroke-linejoin: miter; stroke-linecap: square"/>
</g>
<g>
<path d="M 1274.9 510.7 L 1274.9 15.4" style="fill: none; stroke: #000000; stroke-width: 2.06; stroke-linejoin: miter; stroke-linecap: square"/>
</g>
<g>
<path d="M 728.2 510.7 L 1274.9 510.7" style="fill: none; stroke: #000000; stroke-width: 2.06; stroke-linejoin: miter; stroke-linecap: square"/>
</g>
<g>
<path d="M 728.2 15.4 L 1274.9 15.4" style="fill: none; stroke: #000000; stroke-width: 2.06; stroke-linejoin: miter; stroke-linecap: square"/>
</g>
<g>
<g transform="translate(987.58 494.9)">
<text><tspan x="0 14.02" y="-0.34" style="font-size: 23.3px; font-family: 'DejaVu Sans', sans-serif">P3</tspan><tspan x="28.92" y="-4.26" style="font-size: 23.3px; font-family: 'DejaVu Sans', sans-serif">̄</tspan><tspan x="28.81 43.61" y="-0.34" style="font-size: 23.3px; font-family: 'DejaVu Sans', sans-serif">1c</tspan></text>
</g>
</g>
<g>
<text style="font-size: 23.3px; font-family: 'DejaVu Sans', sans-serif; text-anchor: start" x="1060.03" y="494.9">C2/c</text>
</g>
<g>
<g transform="translate(736.61 43.3)">
<text><tspan x="0 8.19 22.49 32.05 41.61 48.07 55.46" y="-0.53" style="font-size: 23.3px; font-family: 'DejaVu Sans', sans-serif">ferri, </tspan><tspan x="62.85" y="-0.53" style="font-style: oblique; font-size: 23.3px; font-family: 'DejaVu Sans', sans-serif">U</tspan><tspan x="84.39 108.41 123.2 129.34 144.13 151.52 165.83" y="-0.53" style="font-size: 23.3px; font-family: 'DejaVu Sans', sans-serif">=4.2 eV</tspan></text>
</g>
</g>
</g>
<g>
<g>
<g>
<g>
<g>
<path d="M 0 0 L -8.15 0" transform="translate(1274.9 461.17)" style="stroke: #000000; stroke-width: 2.06"/>
</g>
</g>
<g>
<text style="font-size: 23.3px; font-family: 'DejaVu Sans', sans-serif; text-anchor: start" x="1283.06" y="470.02">0.0</text>
</g>
</g>
<g>
<g>
<g>
<path d="M 0 0 L -8.15 0" transform="translate(1274.9 394.63)" style="stroke: #000000; stroke-width: 2.06"/>
</g>
</g>
<g>
<text style="font-size: 23.3px; font-family: 'DejaVu Sans', sans-serif; text-anchor: start" x="1283.06" y="403.48">0.2</text>
</g>
</g>
<g>
<g>
<g>
<path d="M 0 0 L -8.15 0" transform="translate(1274.9 328.09)" style="stroke: #000000; stroke-width: 2.06"/>
</g>
</g>
<g>
<text style="font-size: 23.3px; font-family: 'DejaVu Sans', sans-serif; text-anchor: start" x="1283.06" y="336.94">0.4</text>
</g>
</g>
<g>
<g>
<g>
<path d="M 0 0 L -8.15 0" transform="translate(1274.9 261.55)" style="stroke: #000000; stroke-width: 2.06"/>
</g>
</g>
<g>
<text style="font-size: 23.3px; font-family: 'DejaVu Sans', sans-serif; text-anchor: start" x="1283.06" y="270.41">0.6</text>
</g>
</g>
<g>
<g>
<g>
<path d="M 0 0 L -8.15 0" transform="translate(1274.9 195.02)" style="stroke: #000000; stroke-width: 2.06"/>
</g>
</g>
<g>
<text style="font-size: 23.3px; font-family: 'DejaVu Sans', sans-serif; text-anchor: start" x="1283.06" y="203.87">0.8</text>
</g>
</g>
<g>
<g>
<g>
<path d="M 0 0 L -8.15 0" transform="translate(1274.9 128.48)" style="stroke: #000000; stroke-width: 2.06"/>
</g>
</g>
<g>
<text style="font-size: 23.3px; font-family: 'DejaVu Sans', sans-serif; text-anchor: start" x="1283.06" y="137.33">1.0</text>
</g>
</g>
<g>
<g>
<g>
<path d="M 0 0 L -8.15 0" transform="translate(1274.9 61.94)" style="stroke: #000000; stroke-width: 2.06"/>
</g>
</g>
<g>
<text style="font-size: 23.3px; font-family: 'DejaVu Sans', sans-serif; text-anchor: start" x="1283.06" y="70.79">1.2</text>
</g>
</g>
<g>
<g>
<g>
<path d="M 0 0 L -4.66 0" transform="translate(1274.9 494.44)" style="stroke: #000000; stroke-width: 1.6"/>
</g>
</g>
</g>
<g>
<g>
<g>
<path d="M 0 0 L -4.66 0" transform="translate(1274.9 427.9)" style="stroke: #000000; stroke-width: 1.6"/>
</g>
</g>
</g>
<g>
<g>
<g>
<path d="M 0 0 L -4.66 0" transform="translate(1274.9 361.36)" style="stroke: #000000; stroke-width: 1.6"/>
</g>
</g>
</g>
<g>
<g>
<g>
<path d="M 0 0 L -4.66 0" transform="translate(1274.9 294.82)" style="stroke: #000000; stroke-width: 1.6"/>
</g>
</g>
</g>
<g>
<g>
<g>
<path d="M 0 0 L -4.66 0" transform="translate(1274.9 228.28)" style="stroke: #000000; stroke-width: 1.6"/>
</g>
</g>
</g>
<g>
<g>
<g>
<path d="M 0 0 L -4.66 0" transform="translate(1274.9 161.75)" style="stroke: #000000; stroke-width: 1.6"/>
</g>
</g>
</g>
<g>
<g>
<g>
<path d="M 0 0 L -4.66 0" transform="translate(1274.9 95.21)" style="stroke: #000000; stroke-width: 1.6"/>
</g>
</g>
</g>
<g>
<g>
<g>
<path d="M 0 0 L -4.66 0" transform="translate(1274.9 28.67)" style="stroke: #000000; stroke-width: 1.6"/>
</g>
</g>
</g>
<g>
<text style="font-size: 23.3px; font-family: 'DejaVu Sans', sans-serif; text-anchor: middle" x="1347.13" y="263.05" transform="rotate(-90 1347.13 263.05)">spin-flop field (T)</text>
</g>
</g>
<g>
<path d="M 728.2 510.7 L 728.2 15.4" style="fill: none; stroke: #000000; stroke-width: 2.06; stroke-linejoin: miter; stroke-linecap: square"/>
</g>
<g>
<path d="M 1274.9 510.7 L 1274.9 15.4" style="fill: none; stroke: #000000; stroke-width: 2.06; stroke-linejoin: miter; stroke-linecap: square"/>
</g>
<g>
<path d="M 728.2 510.7 L 1274.9 510.7" style="fill: none; stroke: #000000; stroke-width: 2.06; stroke-linejoin: miter; stroke-linecap: square"/>
</g>
<g>
<path d="M 728.2 15.4 L 1274.9 15.4" style="fill: none; stroke: #000000; stroke-width: 2.06; stroke-linejoin: miter; stroke-linecap: square"/>
</g>
<g>
<path d="M 744.76 245.7 L 1032.74 245.7 Q 1037.4 245.7 1037.4 241.04 L 1037.4 66.31 Q 1037.4 61.65 1032.74 61.65 L 744.76 61.65 Q 740.1 61.65 740.1 66.31 L 740.1 241.04 Q 740.1 245.7 744.76 245.7 z" style="fill: #ffffff; opacity: 0.8; stroke: #cccccc; stroke-width: 2.73; stroke-linejoin: miter"/>
</g>
<g>
<path d="M 747.16 78.9 L 793.76 78.9" style="fill: none; stroke: #7570b3; stroke-width: 3.9; stroke-linecap: square"/>
</g>
<g>
<path d="M 747.16 118.5 L 793.76 118.5" style="fill: none; stroke: #1b9e77; stroke-width: 3.9; stroke-linecap: square"/>
</g>
<g>
<g>
<path d="M 0 6.99 C 1.85 6.99 3.63 6.25 4.94 4.94 C 6.25 3.63 6.99 1.85 6.99 0 C 6.99 -1.85 6.25 -3.63 4.94 -4.94 C 3.63 -6.25 1.85 -6.99 0 -6.99 C -1.85 -6.99 -3.63 -6.25 -4.94 -4.94 C -6.25 -3.63 -6.99 -1.85 -6.99 0 C -6.99 1.85 -6.25 3.63 -4.94 4.94 C -3.63 6.25 -1.85 6.99 0 6.99 z" transform="translate(770.46 78.9)" style="fill: #7570b3; stroke: #7570b3; stroke-width: 2.73"/>
</g>
</g>
<g>
<g>
<path d="M -6.99 6.99 L 6.99 6.99 L 6.99 -6.99 L -6.99 -6.99 z" transform="translate(770.46 118.5)" style="fill: #1b9e77; stroke: #1b9e77; stroke-width: 2.73; stroke-linejoin: miter"/>
</g>
</g>
<g>
<g>
<path d="M 0 -10 L -10 10 L 10 10 z" transform="translate(770.46 159.7)" style="fill: #66a61e; stroke: #ffffff; stroke-width: 1.93; stroke-linejoin: miter"/>
</g>
</g>
<g>
<g>
<path d="M -3.33 10 L 3.33 10 L 3.33 3.33 L 10 3.33 L 10 -3.33 L 3.33 -3.33 L 3.33 -10 L -3.33 -10 L -3.33 -3.33 L -10 -3.33 L -10 3.33 L -3.33 3.33 z" transform="translate(770.46 193.75)" style="fill: #d95f02; stroke: #ffffff; stroke-width: 1.93; stroke-linejoin: miter"/>
</g>
</g>
<g>
<g>
<path d="M -5 10 L 0 5 L 5 10 L 10 5 L 5 0 L 10 -5 L 5 -10 L 0 -5 L -5 -10 L -10 -5 L -5 0 L -10 5 z" transform="translate(770.46 227.67)" style="fill: #e7298a; stroke: #ffffff; stroke-width: 1.93; stroke-linejoin: miter"/>
</g>
</g>
<g>
<g transform="translate(812.8 85.87)">
<text><tspan x="0" y="-0.23" style="font-style: oblique; font-size: 23.3px; font-family: 'DejaVu Sans', sans-serif">E</tspan><tspan x="14.69" y="3.54" style="font-style: oblique; font-size: 16.31px; font-family: 'DejaVu Sans', sans-serif">M</tspan><tspan x="31.9" y="3.54" style="font-size: 16.31px; font-family: 'DejaVu Sans', sans-serif">∥</tspan><tspan x="43.21" y="3.54" style="font-style: oblique; font-size: 16.31px; font-family: 'DejaVu Sans', sans-serif">b</tspan><tspan x="58.7" y="-0.23" style="font-size: 23.3px; font-family: 'DejaVu Sans', sans-serif">−</tspan><tspan x="82.71" y="-0.23" style="font-style: oblique; font-size: 23.3px; font-family: 'DejaVu Sans', sans-serif">E</tspan><tspan x="97.4" y="3.54" style="font-style: oblique; font-size: 16.31px; font-family: 'DejaVu Sans', sans-serif">M</tspan><tspan x="114.61" y="3.54" style="font-size: 16.31px; font-family: 'DejaVu Sans', sans-serif">∥</tspan><tspan x="125.92" y="3.54" style="font-style: oblique; font-size: 16.31px; font-family: 'DejaVu Sans', sans-serif">a</tspan></text>
</g>
</g>
<g>
<g transform="translate(812.8 125.4)">
<text><tspan x="0" y="-0.23" style="font-style: oblique; font-size: 23.3px; font-family: 'DejaVu Sans', sans-serif">E</tspan><tspan x="14.69" y="3.54" style="font-style: oblique; font-size: 16.31px; font-family: 'DejaVu Sans', sans-serif">M</tspan><tspan x="31.9" y="3.54" style="font-size: 16.31px; font-family: 'DejaVu Sans', sans-serif">∥</tspan><tspan x="43.21" y="3.54" style="font-style: oblique; font-size: 16.31px; font-family: 'DejaVu Sans', sans-serif">c</tspan><tspan x="57.32" y="-0.23" style="font-size: 23.3px; font-family: 'DejaVu Sans', sans-serif">−</tspan><tspan x="81.33" y="-0.23" style="font-style: oblique; font-size: 23.3px; font-family: 'DejaVu Sans', sans-serif">E</tspan><tspan x="96.02" y="3.54" style="font-style: oblique; font-size: 16.31px; font-family: 'DejaVu Sans', sans-serif">M</tspan><tspan x="113.23" y="3.54" style="font-size: 16.31px; font-family: 'DejaVu Sans', sans-serif">∥</tspan><tspan x="124.54" y="3.54" style="font-style: oblique; font-size: 16.31px; font-family: 'DejaVu Sans', sans-serif">a</tspan></text>
</g>
</g>
<g>
<text style="font-size: 23.3px; font-family: 'DejaVu Sans', sans-serif; text-anchor: start" x="812.8" y="165.6">Ref. [26], Fig. 2b</text>
</g>
<g>
<text style="font-size: 23.3px; font-family: 'DejaVu Sans', sans-serif; text-anchor: start" x="812.8" y="199.7">Ref. [26], Fig. S3b</text>
</g>
<g>
<text style="font-size: 23.3px; font-family: 'DejaVu Sans', sans-serif; text-anchor: start" x="812.8" y="233.6">Ref. [26], Fig. S11c</text>
</g>
</g>
<g>
<g>
<path d="M 1453.1 510.7 L 1999.8 510.7 L 1999.8 15.4 L 1453.1 15.4 z" style="fill: #ffffff"/>
</g>
<g>
<path d="M 1776.91 510.7 L 1776.91 15.4" clip-path="url(#p0e8e477ed9)" style="fill: none; stroke: #d3d3d3; stroke-width: 5.06; stroke-linecap: square"/>
</g>
<g>
<path d="M 1453.1 414.84 L 1999.8 414.84" clip-path="url(#p0e8e477ed9)" style="fill: none; stroke: #d3d3d3; stroke-width: 5.06; stroke-linecap: square"/>
</g>
<g>
<g>
<g>
<g>
<path d="M 0 0 L 0 -8.15" transform="translate(1453.1 510.7)" style="stroke: #000000; stroke-width: 2.06"/>
</g>
</g>
<g>
<text style="font-size: 23.3px; font-family: 'DejaVu Sans', sans-serif; text-anchor: middle" x="1453.1" y="536.56">0</text>
</g>
</g>
<g>
<g>
<g>
<path d="M 0 0 L 0 -8.15" transform="translate(1558.23 510.7)" style="stroke: #000000; stroke-width: 2.06"/>
</g>
</g>
<g>
<text style="font-size: 23.3px; font-family: 'DejaVu Sans', sans-serif; text-anchor: middle" x="1558.23" y="536.56">5</text>
</g>
</g>
<g>
<g>
<g>
<path d="M 0 0 L 0 -8.15" transform="translate(1663.37 510.7)" style="stroke: #000000; stroke-width: 2.06"/>
</g>
</g>
<g>
<text style="font-size: 23.3px; font-family: 'DejaVu Sans', sans-serif; text-anchor: middle" x="1663.37" y="536.56">10</text>
</g>
</g>
<g>
<g>
<g>
<path d="M 0 0 L 0 -8.15" transform="translate(1768.5 510.7)" style="stroke: #000000; stroke-width: 2.06"/>
</g>
</g>
<g>
<text style="font-size: 23.3px; font-family: 'DejaVu Sans', sans-serif; text-anchor: middle" x="1768.5" y="536.56">15</text>
</g>
</g>
<g>
<g>
<g>
<path d="M 0 0 L 0 -8.15" transform="translate(1873.64 510.7)" style="stroke: #000000; stroke-width: 2.06"/>
</g>
</g>
<g>
<text style="font-size: 23.3px; font-family: 'DejaVu Sans', sans-serif; text-anchor: middle" x="1873.64" y="536.56">20</text>
</g>
</g>
<g>
<g>
<g>
<path d="M 0 0 L 0 -8.15" transform="translate(1978.77 510.7)" style="stroke: #000000; stroke-width: 2.06"/>
</g>
</g>
<g>
<text style="font-size: 23.3px; font-family: 'DejaVu Sans', sans-serif; text-anchor: middle" x="1978.77" y="536.56">25</text>
</g>
</g>
<g>
<g>
<g>
<path d="M 0 0 L 0 -4.66" transform="translate(1474.13 510.7)" style="stroke: #000000; stroke-width: 1.6"/>
</g>
</g>
</g>
<g>
<g>
<g>
<path d="M 0 0 L 0 -4.66" transform="translate(1495.15 510.7)" style="stroke: #000000; stroke-width: 1.6"/>
</g>
</g>
</g>
<g>
<g>
<g>
<path d="M 0 0 L 0 -4.66" transform="translate(1516.18 510.7)" style="stroke: #000000; stroke-width: 1.6"/>
</g>
</g>
</g>
<g>
<g>
<g>
<path d="M 0 0 L 0 -4.66" transform="translate(1537.21 510.7)" style="stroke: #000000; stroke-width: 1.6"/>
</g>
</g>
</g>
<g>
<g>
<g>
<path d="M 0 0 L 0 -4.66" transform="translate(1579.26 510.7)" style="stroke: #000000; stroke-width: 1.6"/>
</g>
</g>
</g>
<g>
<g>
<g>
<path d="M 0 0 L 0 -4.66" transform="translate(1600.29 510.7)" style="stroke: #000000; stroke-width: 1.6"/>
</g>
</g>
</g>
<g>
<g>
<g>
<path d="M 0 0 L 0 -4.66" transform="translate(1621.32 510.7)" style="stroke: #000000; stroke-width: 1.6"/>
</g>
</g>
</g>
<g>
<g>
<g>
<path d="M 0 0 L 0 -4.66" transform="translate(1642.34 510.7)" style="stroke: #000000; stroke-width: 1.6"/>
</g>
</g>
</g>
<g>
<g>
<g>
<path d="M 0 0 L 0 -4.66" transform="translate(1684.4 510.7)" style="stroke: #000000; stroke-width: 1.6"/>
</g>
</g>
</g>
<g>
<g>
<g>
<path d="M 0 0 L 0 -4.66" transform="translate(1705.42 510.7)" style="stroke: #000000; stroke-width: 1.6"/>
</g>
</g>
</g>
<g>
<g>
<g>
<path d="M 0 0 L 0 -4.66" transform="translate(1726.45 510.7)" style="stroke: #000000; stroke-width: 1.6"/>
</g>
</g>
</g>
<g>
<g>
<g>
<path d="M 0 0 L 0 -4.66" transform="translate(1747.48 510.7)" style="stroke: #000000; stroke-width: 1.6"/>
</g>
</g>
</g>
<g>
<g>
<g>
<path d="M 0 0 L 0 -4.66" transform="translate(1789.53 510.7)" style="stroke: #000000; stroke-width: 1.6"/>
</g>
</g>
</g>
<g>
<g>
<g>
<path d="M 0 0 L 0 -4.66" transform="translate(1810.56 510.7)" style="stroke: #000000; stroke-width: 1.6"/>
</g>
</g>
</g>
<g>
<g>
<g>
<path d="M 0 0 L 0 -4.66" transform="translate(1831.58 510.7)" style="stroke: #000000; stroke-width: 1.6"/>
</g>
</g>
</g>
<g>
<g>
<g>
<path d="M 0 0 L 0 -4.66" transform="translate(1852.61 510.7)" style="stroke: #000000; stroke-width: 1.6"/>
</g>
</g>
</g>
<g>
<g>
<g>
<path d="M 0 0 L 0 -4.66" transform="translate(1894.67 510.7)" style="stroke: #000000; stroke-width: 1.6"/>
</g>
</g>
</g>
<g>
<g>
<g>
<path d="M 0 0 L 0 -4.66" transform="translate(1915.69 510.7)" style="stroke: #000000; stroke-width: 1.6"/>
</g>
</g>
</g>
<g>
<g>
<g>
<path d="M 0 0 L 0 -4.66" transform="translate(1936.72 510.7)" style="stroke: #000000; stroke-width: 1.6"/>
</g>
</g>
</g>
<g>
<g>
<g>
<path d="M 0 0 L 0 -4.66" transform="translate(1957.75 510.7)" style="stroke: #000000; stroke-width: 1.6"/>
</g>
</g>
</g>
<g>
<g>
<g>
<path d="M 0 0 L 0 -4.66" transform="translate(1999.8 510.7)" style="stroke: #000000; stroke-width: 1.6"/>
</g>
</g>
</g>
<g>
<g transform="translate(1683.35 568.43)">
<text><tspan x="0" y="-0.55" style="font-style: oblique; font-size: 23.3px; font-family: 'DejaVu Sans', sans-serif">P</tspan><tspan x="14.02 21.41 30.48 48.5 62.52 76.77" y="-0.55" style="font-size: 23.3px; font-family: 'DejaVu Sans', sans-serif"> (GPa)</tspan></text>
</g>
</g>
</g>
<g>
<g>
<g>
<g>
<path d="M 0 0 L 8.15 0" transform="translate(1453.1 494.72)" style="stroke: #000000; stroke-width: 2.06"/>
</g>
</g>
<g>
<text style="font-size: 23.3px; font-family: 'DejaVu Sans', sans-serif; text-anchor: end" x="1444.94" y="503.57">−1</text>
</g>
</g>
<g>
<g>
<g>
<path d="M 0 0 L 8.15 0" transform="translate(1453.1 414.84)" style="stroke: #000000; stroke-width: 2.06"/>
</g>
</g>
<g>
<text style="font-size: 23.3px; font-family: 'DejaVu Sans', sans-serif; text-anchor: end" x="1444.94" y="423.69">0</text>
</g>
</g>
<g>
<g>
<g>
<path d="M 0 0 L 8.15 0" transform="translate(1453.1 334.95)" style="stroke: #000000; stroke-width: 2.06"/>
</g>
</g>
<g>
<text style="font-size: 23.3px; font-family: 'DejaVu Sans', sans-serif; text-anchor: end" x="1444.94" y="343.8">1</text>
</g>
</g>
<g>
<g>
<g>
<path d="M 0 0 L 8.15 0" transform="translate(1453.1 255.06)" style="stroke: #000000; stroke-width: 2.06"/>
</g>
</g>
<g>
<text style="font-size: 23.3px; font-family: 'DejaVu Sans', sans-serif; text-anchor: end" x="1444.94" y="263.91">2</text>
</g>
</g>
<g>
<g>
<g>
<path d="M 0 0 L 8.15 0" transform="translate(1453.1 175.17)" style="stroke: #000000; stroke-width: 2.06"/>
</g>
</g>
<g>
<text style="font-size: 23.3px; font-family: 'DejaVu Sans', sans-serif; text-anchor: end" x="1444.94" y="184.03">3</text>
</g>
</g>
<g>
<g>
<g>
<path d="M 0 0 L 8.15 0" transform="translate(1453.1 95.29)" style="stroke: #000000; stroke-width: 2.06"/>
</g>
</g>
<g>
<text style="font-size: 23.3px; font-family: 'DejaVu Sans', sans-serif; text-anchor: end" x="1444.94" y="104.14">4</text>
</g>
</g>
<g>
<g>
<g>
<path d="M 0 0 L 8.15 0" transform="translate(1453.1 15.4)" style="stroke: #000000; stroke-width: 2.06"/>
</g>
</g>
<g>
<text style="font-size: 23.3px; font-family: 'DejaVu Sans', sans-serif; text-anchor: end" x="1444.94" y="24.25">5</text>
</g>
</g>
<g>
<g>
<g>
<path d="M 0 0 L 4.66 0" transform="translate(1453.1 454.78)" style="stroke: #000000; stroke-width: 1.6"/>
</g>
</g>
</g>
<g>
<g>
<g>
<path d="M 0 0 L 4.66 0" transform="translate(1453.1 374.89)" style="stroke: #000000; stroke-width: 1.6"/>
</g>
</g>
</g>
<g>
<g>
<g>
<path d="M 0 0 L 4.66 0" transform="translate(1453.1 295)" style="stroke: #000000; stroke-width: 1.6"/>
</g>
</g>
</g>
<g>
<g>
<g>
<path d="M 0 0 L 4.66 0" transform="translate(1453.1 215.12)" style="stroke: #000000; stroke-width: 1.6"/>
</g>
</g>
</g>
<g>
<g>
<g>
<path d="M 0 0 L 4.66 0" transform="translate(1453.1 135.23)" style="stroke: #000000; stroke-width: 1.6"/>
</g>
</g>
</g>
<g>
<g>
<g>
<path d="M 0 0 L 4.66 0" transform="translate(1453.1 55.34)" style="stroke: #000000; stroke-width: 1.6"/>
</g>
</g>
</g>
<g>
<g transform="translate(1393.25 337.14) rotate(-90)">
<text><tspan x="0" y="-0.56" style="font-style: oblique; font-size: 23.3px; font-family: 'DejaVu Sans', sans-serif">J</tspan><tspan x="6.86" y="5.73" style="font-size: 16.31px; font-family: 'DejaVu Sans', sans-serif">1</tspan><tspan x="8.47 18.1" y="-12.26" style="font-style: oblique; font-size: 16.31px; font-family: 'DejaVu Sans', sans-serif">yy</tspan><tspan x="27.73" y="-12.26" style="font-size: 16.31px; font-family: 'DejaVu Sans', sans-serif">/</tspan><tspan x="33.22 41.76" y="-12.26" style="font-style: oblique; font-size: 16.31px; font-family: 'DejaVu Sans', sans-serif">zz</tspan><tspan x="50.93 58.32" y="-0.56" style="font-size: 23.3px; font-family: 'DejaVu Sans', sans-serif">, </tspan><tspan x="65.71" y="-0.56" style="font-style: oblique; font-size: 23.3px; font-family: 'DejaVu Sans', sans-serif">K</tspan><tspan x="82.57" y="-9.36" style="font-style: oblique; font-size: 16.31px; font-family: 'DejaVu Sans', sans-serif">y</tspan><tspan x="92.2" y="-9.36" style="font-size: 16.31px; font-family: 'DejaVu Sans', sans-serif">/</tspan><tspan x="97.69" y="-9.36" style="font-style: oblique; font-size: 16.31px; font-family: 'DejaVu Sans', sans-serif">z</tspan><tspan x="106.86 114.25 123.32 138.57" y="-0.56" style="font-size: 23.3px; font-family: 'DejaVu Sans', sans-serif"> (K)</tspan></text>
</g>
</g>
</g>
<g>
<path d="M 1453.1 414.68 L 1474.13 414.68 L 1495.15 414.68 L 1516.18 414.68 L 1537.21 414.68 L 1558.23 414.68 L 1579.26 414.68 L 1600.29 414.68 L 1621.32 414.68 L 1642.34 414.68 L 1663.37 415.08 L 1684.4 416.67 L 1705.42 411.96 L 1726.45 412.52 L 1747.48 414.28 L 1768.5 418.11 L 1776.91 418.11" style="fill: none; stroke: #2ca02c; stroke-width: 3.9; stroke-linecap: square"/>
<g>
<path d="M 0 -6.99 L -6.99 6.99 L 6.99 6.99 z" transform="translate(1453.1 414.68)" style="fill: #2ca02c; stroke: #2ca02c; stroke-width: 2.73; stroke-linejoin: miter"/>
<path d="M 0 -6.99 L -6.99 6.99 L 6.99 6.99 z" transform="translate(1474.13 414.68)" style="fill: #2ca02c; stroke: #2ca02c; stroke-width: 2.73; stroke-linejoin: miter"/>
<path d="M 0 -6.99 L -6.99 6.99 L 6.99 6.99 z" transform="translate(1495.15 414.68)" style="fill: #2ca02c; stroke: #2ca02c; stroke-width: 2.73; stroke-linejoin: miter"/>
<path d="M 0 -6.99 L -6.99 6.99 L 6.99 6.99 z" transform="translate(1516.18 414.68)" style="fill: #2ca02c; stroke: #2ca02c; stroke-width: 2.73; stroke-linejoin: miter"/>
<path d="M 0 -6.99 L -6.99 6.99 L 6.99 6.99 z" transform="translate(1537.21 414.68)" style="fill: #2ca02c; stroke: #2ca02c; stroke-width: 2.73; stroke-linejoin: miter"/>
<path d="M 0 -6.99 L -6.99 6.99 L 6.99 6.99 z" transform="translate(1558.23 414.68)" style="fill: #2ca02c; stroke: #2ca02c; stroke-width: 2.73; stroke-linejoin: miter"/>
<path d="M 0 -6.99 L -6.99 6.99 L 6.99 6.99 z" transform="translate(1579.26 414.68)" style="fill: #2ca02c; stroke: #2ca02c; stroke-width: 2.73; stroke-linejoin: miter"/>
<path d="M 0 -6.99 L -6.99 6.99 L 6.99 6.99 z" transform="translate(1600.29 414.68)" style="fill: #2ca02c; stroke: #2ca02c; stroke-width: 2.73; stroke-linejoin: miter"/>
<path d="M 0 -6.99 L -6.99 6.99 L 6.99 6.99 z" transform="translate(1621.32 414.68)" style="fill: #2ca02c; stroke: #2ca02c; stroke-width: 2.73; stroke-linejoin: miter"/>
<path d="M 0 -6.99 L -6.99 6.99 L 6.99 6.99 z" transform="translate(1642.34 414.68)" style="fill: #2ca02c; stroke: #2ca02c; stroke-width: 2.73; stroke-linejoin: miter"/>
<path d="M 0 -6.99 L -6.99 6.99 L 6.99 6.99 z" transform="translate(1663.37 415.08)" style="fill: #2ca02c; stroke: #2ca02c; stroke-width: 2.73; stroke-linejoin: miter"/>
<path d="M 0 -6.99 L -6.99 6.99 L 6.99 6.99 z" transform="translate(1684.4 416.67)" style="fill: #2ca02c; stroke: #2ca02c; stroke-width: 2.73; stroke-linejoin: miter"/>
<path d="M 0 -6.99 L -6.99 6.99 L 6.99 6.99 z" transform="translate(1705.42 411.96)" style="fill: #2ca02c; stroke: #2ca02c; stroke-width: 2.73; stroke-linejoin: miter"/>
<path d="M 0 -6.99 L -6.99 6.99 L 6.99 6.99 z" transform="translate(1726.45 412.52)" style="fill: #2ca02c; stroke: #2ca02c; stroke-width: 2.73; stroke-linejoin: miter"/>
<path d="M 0 -6.99 L -6.99 6.99 L 6.99 6.99 z" transform="translate(1747.48 414.28)" style="fill: #2ca02c; stroke: #2ca02c; stroke-width: 2.73; stroke-linejoin: miter"/>
<path d="M 0 -6.99 L -6.99 6.99 L 6.99 6.99 z" transform="translate(1768.5 418.11)" style="fill: #2ca02c; stroke: #2ca02c; stroke-width: 2.73; stroke-linejoin: miter"/>
<path d="M 0 -6.99 L -6.99 6.99 L 6.99 6.99 z" transform="translate(1776.91 418.11)" style="fill: #2ca02c; stroke: #2ca02c; stroke-width: 2.73; stroke-linejoin: miter"/>
</g>
</g>
<g>
<path d="M 1776.91 449.75 L 1789.53 451.4 L 1810.56 453.4 L 1831.58 456.19 L 1852.61 460.81 L 1873.64 464.72 L 1894.67 467.51 L 1915.69 468.36 L 1936.72 468.36 L 1957.75 465.6 L 1978.77 464.03" style="fill: none; stroke: #2ca02c; stroke-width: 3.9; stroke-linecap: square"/>
<g>
<path d="M 0 -6.99 L -6.99 6.99 L 6.99 6.99 z" transform="translate(1776.91 449.75)" style="fill: #ffffff; stroke: #2ca02c; stroke-width: 2.73; stroke-linejoin: miter"/>
<path d="M 0 -6.99 L -6.99 6.99 L 6.99 6.99 z" transform="translate(1789.53 451.4)" style="fill: #ffffff; stroke: #2ca02c; stroke-width: 2.73; stroke-linejoin: miter"/>
<path d="M 0 -6.99 L -6.99 6.99 L 6.99 6.99 z" transform="translate(1810.56 453.4)" style="fill: #ffffff; stroke: #2ca02c; stroke-width: 2.73; stroke-linejoin: miter"/>
<path d="M 0 -6.99 L -6.99 6.99 L 6.99 6.99 z" transform="translate(1831.58 456.19)" style="fill: #ffffff; stroke: #2ca02c; stroke-width: 2.73; stroke-linejoin: miter"/>
<path d="M 0 -6.99 L -6.99 6.99 L 6.99 6.99 z" transform="translate(1852.61 460.81)" style="fill: #ffffff; stroke: #2ca02c; stroke-width: 2.73; stroke-linejoin: miter"/>
<path d="M 0 -6.99 L -6.99 6.99 L 6.99 6.99 z" transform="translate(1873.64 464.72)" style="fill: #ffffff; stroke: #2ca02c; stroke-width: 2.73; stroke-linejoin: miter"/>
<path d="M 0 -6.99 L -6.99 6.99 L 6.99 6.99 z" transform="translate(1894.67 467.51)" style="fill: #ffffff; stroke: #2ca02c; stroke-width: 2.73; stroke-linejoin: miter"/>
<path d="M 0 -6.99 L -6.99 6.99 L 6.99 6.99 z" transform="translate(1915.69 468.36)" style="fill: #ffffff; stroke: #2ca02c; stroke-width: 2.73; stroke-linejoin: miter"/>
<path d="M 0 -6.99 L -6.99 6.99 L 6.99 6.99 z" transform="translate(1936.72 468.36)" style="fill: #ffffff; stroke: #2ca02c; stroke-width: 2.73; stroke-linejoin: miter"/>
<path d="M 0 -6.99 L -6.99 6.99 L 6.99 6.99 z" transform="translate(1957.75 465.6)" style="fill: #ffffff; stroke: #2ca02c; stroke-width: 2.73; stroke-linejoin: miter"/>
<path d="M 0 -6.99 L -6.99 6.99 L 6.99 6.99 z" transform="translate(1978.77 464.03)" style="fill: #ffffff; stroke: #2ca02c; stroke-width: 2.73; stroke-linejoin: miter"/>
</g>
</g>
<g>
<path d="M 1453.1 387.02 L 1474.13 384.36 L 1495.15 380.58 L 1516.18 374.43 L 1537.21 369.25 L 1558.23 364.43 L 1579.26 362.25 L 1600.29 372.26 L 1621.32 384.85 L 1642.34 393.67 L 1663.37 396.18 L 1684.4 395.28 L 1705.42 375.64 L 1726.45 351.96 L 1747.48 312.21 L 1768.5 275.14 L 1776.91 263.56" style="fill: none; stroke: #1f77b4; stroke-width: 3.9; stroke-linecap: square"/>
<g>
<path d="M 0 6.99 C 1.85 6.99 3.63 6.25 4.94 4.94 C 6.25 3.63 6.99 1.85 6.99 0 C 6.99 -1.85 6.25 -3.63 4.94 -4.94 C 3.63 -6.25 1.85 -6.99 0 -6.99 C -1.85 -6.99 -3.63 -6.25 -4.94 -4.94 C -6.25 -3.63 -6.99 -1.85 -6.99 0 C -6.99 1.85 -6.25 3.63 -4.94 4.94 C -3.63 6.25 -1.85 6.99 0 6.99 z" transform="translate(1453.1 387.02)" style="fill: #1f77b4; stroke: #1f77b4; stroke-width: 2.73"/>
<path d="M 0 6.99 C 1.85 6.99 3.63 6.25 4.94 4.94 C 6.25 3.63 6.99 1.85 6.99 0 C 6.99 -1.85 6.25 -3.63 4.94 -4.94 C 3.63 -6.25 1.85 -6.99 0 -6.99 C -1.85 -6.99 -3.63 -6.25 -4.94 -4.94 C -6.25 -3.63 -6.99 -1.85 -6.99 0 C -6.99 1.85 -6.25 3.63 -4.94 4.94 C -3.63 6.25 -1.85 6.99 0 6.99 z" transform="translate(1474.13 384.36)" style="fill: #1f77b4; stroke: #1f77b4; stroke-width: 2.73"/>
<path d="M 0 6.99 C 1.85 6.99 3.63 6.25 4.94 4.94 C 6.25 3.63 6.99 1.85 6.99 0 C 6.99 -1.85 6.25 -3.63 4.94 -4.94 C 3.63 -6.25 1.85 -6.99 0 -6.99 C -1.85 -6.99 -3.63 -6.25 -4.94 -4.94 C -6.25 -3.63 -6.99 -1.85 -6.99 0 C -6.99 1.85 -6.25 3.63 -4.94 4.94 C -3.63 6.25 -1.85 6.99 0 6.99 z" transform="translate(1495.15 380.58)" style="fill: #1f77b4; stroke: #1f77b4; stroke-width: 2.73"/>
<path d="M 0 6.99 C 1.85 6.99 3.63 6.25 4.94 4.94 C 6.25 3.63 6.99 1.85 6.99 0 C 6.99 -1.85 6.25 -3.63 4.94 -4.94 C 3.63 -6.25 1.85 -6.99 0 -6.99 C -1.85 -6.99 -3.63 -6.25 -4.94 -4.94 C -6.25 -3.63 -6.99 -1.85 -6.99 0 C -6.99 1.85 -6.25 3.63 -4.94 4.94 C -3.63 6.25 -1.85 6.99 0 6.99 z" transform="translate(1516.18 374.43)" style="fill: #1f77b4; stroke: #1f77b4; stroke-width: 2.73"/>
<path d="M 0 6.99 C 1.85 6.99 3.63 6.25 4.94 4.94 C 6.25 3.63 6.99 1.85 6.99 0 C 6.99 -1.85 6.25 -3.63 4.94 -4.94 C 3.63 -6.25 1.85 -6.99 0 -6.99 C -1.85 -6.99 -3.63 -6.25 -4.94 -4.94 C -6.25 -3.63 -6.99 -1.85 -6.99 0 C -6.99 1.85 -6.25 3.63 -4.94 4.94 C -3.63 6.25 -1.85 6.99 0 6.99 z" transform="translate(1537.21 369.25)" style="fill: #1f77b4; stroke: #1f77b4; stroke-width: 2.73"/>
<path d="M 0 6.99 C 1.85 6.99 3.63 6.25 4.94 4.94 C 6.25 3.63 6.99 1.85 6.99 0 C 6.99 -1.85 6.25 -3.63 4.94 -4.94 C 3.63 -6.25 1.85 -6.99 0 -6.99 C -1.85 -6.99 -3.63 -6.25 -4.94 -4.94 C -6.25 -3.63 -6.99 -1.85 -6.99 0 C -6.99 1.85 -6.25 3.63 -4.94 4.94 C -3.63 6.25 -1.85 6.99 0 6.99 z" transform="translate(1558.23 364.43)" style="fill: #1f77b4; stroke: #1f77b4; stroke-width: 2.73"/>
<path d="M 0 6.99 C 1.85 6.99 3.63 6.25 4.94 4.94 C 6.25 3.63 6.99 1.85 6.99 0 C 6.99 -1.85 6.25 -3.63 4.94 -4.94 C 3.63 -6.25 1.85 -6.99 0 -6.99 C -1.85 -6.99 -3.63 -6.25 -4.94 -4.94 C -6.25 -3.63 -6.99 -1.85 -6.99 0 C -6.99 1.85 -6.25 3.63 -4.94 4.94 C -3.63 6.25 -1.85 6.99 0 6.99 z" transform="translate(1579.26 362.25)" style="fill: #1f77b4; stroke: #1f77b4; stroke-width: 2.73"/>
<path d="M 0 6.99 C 1.85 6.99 3.63 6.25 4.94 4.94 C 6.25 3.63 6.99 1.85 6.99 0 C 6.99 -1.85 6.25 -3.63 4.94 -4.94 C 3.63 -6.25 1.85 -6.99 0 -6.99 C -1.85 -6.99 -3.63 -6.25 -4.94 -4.94 C -6.25 -3.63 -6.99 -1.85 -6.99 0 C -6.99 1.85 -6.25 3.63 -4.94 4.94 C -3.63 6.25 -1.85 6.99 0 6.99 z" transform="translate(1600.29 372.26)" style="fill: #1f77b4; stroke: #1f77b4; stroke-width: 2.73"/>
<path d="M 0 6.99 C 1.85 6.99 3.63 6.25 4.94 4.94 C 6.25 3.63 6.99 1.85 6.99 0 C 6.99 -1.85 6.25 -3.63 4.94 -4.94 C 3.63 -6.25 1.85 -6.99 0 -6.99 C -1.85 -6.99 -3.63 -6.25 -4.94 -4.94 C -6.25 -3.63 -6.99 -1.85 -6.99 0 C -6.99 1.85 -6.25 3.63 -4.94 4.94 C -3.63 6.25 -1.85 6.99 0 6.99 z" transform="translate(1621.32 384.85)" style="fill: #1f77b4; stroke: #1f77b4; stroke-width: 2.73"/>
<path d="M 0 6.99 C 1.85 6.99 3.63 6.25 4.94 4.94 C 6.25 3.63 6.99 1.85 6.99 0 C 6.99 -1.85 6.25 -3.63 4.94 -4.94 C 3.63 -6.25 1.85 -6.99 0 -6.99 C -1.85 -6.99 -3.63 -6.25 -4.94 -4.94 C -6.25 -3.63 -6.99 -1.85 -6.99 0 C -6.99 1.85 -6.25 3.63 -4.94 4.94 C -3.63 6.25 -1.85 6.99 0 6.99 z" transform="translate(1642.34 393.67)" style="fill: #1f77b4; stroke: #1f77b4; stroke-width: 2.73"/>
<path d="M 0 6.99 C 1.85 6.99 3.63 6.25 4.94 4.94 C 6.25 3.63 6.99 1.85 6.99 0 C 6.99 -1.85 6.25 -3.63 4.94 -4.94 C 3.63 -6.25 1.85 -6.99 0 -6.99 C -1.85 -6.99 -3.63 -6.25 -4.94 -4.94 C -6.25 -3.63 -6.99 -1.85 -6.99 0 C -6.99 1.85 -6.25 3.63 -4.94 4.94 C -3.63 6.25 -1.85 6.99 0 6.99 z" transform="translate(1663.37 396.18)" style="fill: #1f77b4; stroke: #1f77b4; stroke-width: 2.73"/>
<path d="M 0 6.99 C 1.85 6.99 3.63 6.25 4.94 4.94 C 6.25 3.63 6.99 1.85 6.99 0 C 6.99 -1.85 6.25 -3.63 4.94 -4.94 C 3.63 -6.25 1.85 -6.99 0 -6.99 C -1.85 -6.99 -3.63 -6.25 -4.94 -4.94 C -6.25 -3.63 -6.99 -1.85 -6.99 0 C -6.99 1.85 -6.25 3.63 -4.94 4.94 C -3.63 6.25 -1.85 6.99 0 6.99 z" transform="translate(1684.4 395.28)" style="fill: #1f77b4; stroke: #1f77b4; stroke-width: 2.73"/>
<path d="M 0 6.99 C 1.85 6.99 3.63 6.25 4.94 4.94 C 6.25 3.63 6.99 1.85 6.99 0 C 6.99 -1.85 6.25 -3.63 4.94 -4.94 C 3.63 -6.25 1.85 -6.99 0 -6.99 C -1.85 -6.99 -3.63 -6.25 -4.94 -4.94 C -6.25 -3.63 -6.99 -1.85 -6.99 0 C -6.99 1.85 -6.25 3.63 -4.94 4.94 C -3.63 6.25 -1.85 6.99 0 6.99 z" transform="translate(1705.42 375.64)" style="fill: #1f77b4; stroke: #1f77b4; stroke-width: 2.73"/>
<path d="M 0 6.99 C 1.85 6.99 3.63 6.25 4.94 4.94 C 6.25 3.63 6.99 1.85 6.99 0 C 6.99 -1.85 6.25 -3.63 4.94 -4.94 C 3.63 -6.25 1.85 -6.99 0 -6.99 C -1.85 -6.99 -3.63 -6.25 -4.94 -4.94 C -6.25 -3.63 -6.99 -1.85 -6.99 0 C -6.99 1.85 -6.25 3.63 -4.94 4.94 C -3.63 6.25 -1.85 6.99 0 6.99 z" transform="translate(1726.45 351.96)" style="fill: #1f77b4; stroke: #1f77b4; stroke-width: 2.73"/>
<path d="M 0 6.99 C 1.85 6.99 3.63 6.25 4.94 4.94 C 6.25 3.63 6.99 1.85 6.99 0 C 6.99 -1.85 6.25 -3.63 4.94 -4.94 C 3.63 -6.25 1.85 -6.99 0 -6.99 C -1.85 -6.99 -3.63 -6.25 -4.94 -4.94 C -6.25 -3.63 -6.99 -1.85 -6.99 0 C -6.99 1.85 -6.25 3.63 -4.94 4.94 C -3.63 6.25 -1.85 6.99 0 6.99 z" transform="translate(1747.48 312.21)" style="fill: #1f77b4; stroke: #1f77b4; stroke-width: 2.73"/>
<path d="M 0 6.99 C 1.85 6.99 3.63 6.25 4.94 4.94 C 6.25 3.63 6.99 1.85 6.99 0 C 6.99 -1.85 6.25 -3.63 4.94 -4.94 C 3.63 -6.25 1.85 -6.99 0 -6.99 C -1.85 -6.99 -3.63 -6.25 -4.94 -4.94 C -6.25 -3.63 -6.99 -1.85 -6.99 0 C -6.99 1.85 -6.25 3.63 -4.94 4.94 C -3.63 6.25 -1.85 6.99 0 6.99 z" transform="translate(1768.5 275.14)" style="fill: #1f77b4; stroke: #1f77b4; stroke-width: 2.73"/>
<path d="M 0 6.99 C 1.85 6.99 3.63 6.25 4.94 4.94 C 6.25 3.63 6.99 1.85 6.99 0 C 6.99 -1.85 6.25 -3.63 4.94 -4.94 C 3.63 -6.25 1.85 -6.99 0 -6.99 C -1.85 -6.99 -3.63 -6.25 -4.94 -4.94 C -6.25 -3.63 -6.99 -1.85 -6.99 0 C -6.99 1.85 -6.25 3.63 -4.94 4.94 C -3.63 6.25 -1.85 6.99 0 6.99 z" transform="translate(1776.91 263.56)" style="fill: #1f77b4; stroke: #1f77b4; stroke-width: 2.73"/>
</g>
</g>
<g>
<path d="M 1776.91 294.85 L 1789.53 302.45 L 1810.56 308.24 L 1831.58 310.73 L 1852.61 313.54 L 1873.64 316.69 L 1894.67 318.17 L 1915.69 319.5 L 1936.72 321.15 L 1957.75 322.49 L 1978.77 324.8" style="fill: none; stroke: #1f77b4; stroke-width: 3.9; stroke-linecap: square"/>
<g>
<path d="M 0 6.99 C 1.85 6.99 3.63 6.25 4.94 4.94 C 6.25 3.63 6.99 1.85 6.99 0 C 6.99 -1.85 6.25 -3.63 4.94 -4.94 C 3.63 -6.25 1.85 -6.99 0 -6.99 C -1.85 -6.99 -3.63 -6.25 -4.94 -4.94 C -6.25 -3.63 -6.99 -1.85 -6.99 0 C -6.99 1.85 -6.25 3.63 -4.94 4.94 C -3.63 6.25 -1.85 6.99 0 6.99 z" transform="translate(1776.91 294.85)" style="fill: #ffffff; stroke: #1f77b4; stroke-width: 2.73"/>
<path d="M 0 6.99 C 1.85 6.99 3.63 6.25 4.94 4.94 C 6.25 3.63 6.99 1.85 6.99 0 C 6.99 -1.85 6.25 -3.63 4.94 -4.94 C 3.63 -6.25 1.85 -6.99 0 -6.99 C -1.85 -6.99 -3.63 -6.25 -4.94 -4.94 C -6.25 -3.63 -6.99 -1.85 -6.99 0 C -6.99 1.85 -6.25 3.63 -4.94 4.94 C -3.63 6.25 -1.85 6.99 0 6.99 z" transform="translate(1789.53 302.45)" style="fill: #ffffff; stroke: #1f77b4; stroke-width: 2.73"/>
<path d="M 0 6.99 C 1.85 6.99 3.63 6.25 4.94 4.94 C 6.25 3.63 6.99 1.85 6.99 0 C 6.99 -1.85 6.25 -3.63 4.94 -4.94 C 3.63 -6.25 1.85 -6.99 0 -6.99 C -1.85 -6.99 -3.63 -6.25 -4.94 -4.94 C -6.25 -3.63 -6.99 -1.85 -6.99 0 C -6.99 1.85 -6.25 3.63 -4.94 4.94 C -3.63 6.25 -1.85 6.99 0 6.99 z" transform="translate(1810.56 308.24)" style="fill: #ffffff; stroke: #1f77b4; stroke-width: 2.73"/>
<path d="M 0 6.99 C 1.85 6.99 3.63 6.25 4.94 4.94 C 6.25 3.63 6.99 1.85 6.99 0 C 6.99 -1.85 6.25 -3.63 4.94 -4.94 C 3.63 -6.25 1.85 -6.99 0 -6.99 C -1.85 -6.99 -3.63 -6.25 -4.94 -4.94 C -6.25 -3.63 -6.99 -1.85 -6.99 0 C -6.99 1.85 -6.25 3.63 -4.94 4.94 C -3.63 6.25 -1.85 6.99 0 6.99 z" transform="translate(1831.58 310.73)" style="fill: #ffffff; stroke: #1f77b4; stroke-width: 2.73"/>
<path d="M 0 6.99 C 1.85 6.99 3.63 6.25 4.94 4.94 C 6.25 3.63 6.99 1.85 6.99 0 C 6.99 -1.85 6.25 -3.63 4.94 -4.94 C 3.63 -6.25 1.85 -6.99 0 -6.99 C -1.85 -6.99 -3.63 -6.25 -4.94 -4.94 C -6.25 -3.63 -6.99 -1.85 -6.99 0 C -6.99 1.85 -6.25 3.63 -4.94 4.94 C -3.63 6.25 -1.85 6.99 0 6.99 z" transform="translate(1852.61 313.54)" style="fill: #ffffff; stroke: #1f77b4; stroke-width: 2.73"/>
<path d="M 0 6.99 C 1.85 6.99 3.63 6.25 4.94 4.94 C 6.25 3.63 6.99 1.85 6.99 0 C 6.99 -1.85 6.25 -3.63 4.94 -4.94 C 3.63 -6.25 1.85 -6.99 0 -6.99 C -1.85 -6.99 -3.63 -6.25 -4.94 -4.94 C -6.25 -3.63 -6.99 -1.85 -6.99 0 C -6.99 1.85 -6.25 3.63 -4.94 4.94 C -3.63 6.25 -1.85 6.99 0 6.99 z" transform="translate(1873.64 316.69)" style="fill: #ffffff; stroke: #1f77b4; stroke-width: 2.73"/>
<path d="M 0 6.99 C 1.85 6.99 3.63 6.25 4.94 4.94 C 6.25 3.63 6.99 1.85 6.99 0 C 6.99 -1.85 6.25 -3.63 4.94 -4.94 C 3.63 -6.25 1.85 -6.99 0 -6.99 C -1.85 -6.99 -3.63 -6.25 -4.94 -4.94 C -6.25 -3.63 -6.99 -1.85 -6.99 0 C -6.99 1.85 -6.25 3.63 -4.94 4.94 C -3.63 6.25 -1.85 6.99 0 6.99 z" transform="translate(1894.67 318.17)" style="fill: #ffffff; stroke: #1f77b4; stroke-width: 2.73"/>
<path d="M 0 6.99 C 1.85 6.99 3.63 6.25 4.94 4.94 C 6.25 3.63 6.99 1.85 6.99 0 C 6.99 -1.85 6.25 -3.63 4.94 -4.94 C 3.63 -6.25 1.85 -6.99 0 -6.99 C -1.85 -6.99 -3.63 -6.25 -4.94 -4.94 C -6.25 -3.63 -6.99 -1.85 -6.99 0 C -6.99 1.85 -6.25 3.63 -4.94 4.94 C -3.63 6.25 -1.85 6.99 0 6.99 z" transform="translate(1915.69 319.5)" style="fill: #ffffff; stroke: #1f77b4; stroke-width: 2.73"/>
<path d="M 0 6.99 C 1.85 6.99 3.63 6.25 4.94 4.94 C 6.25 3.63 6.99 1.85 6.99 0 C 6.99 -1.85 6.25 -3.63 4.94 -4.94 C 3.63 -6.25 1.85 -6.99 0 -6.99 C -1.85 -6.99 -3.63 -6.25 -4.94 -4.94 C -6.25 -3.63 -6.99 -1.85 -6.99 0 C -6.99 1.85 -6.25 3.63 -4.94 4.94 C -3.63 6.25 -1.85 6.99 0 6.99 z" transform="translate(1936.72 321.15)" style="fill: #ffffff; stroke: #1f77b4; stroke-width: 2.73"/>
<path d="M 0 6.99 C 1.85 6.99 3.63 6.25 4.94 4.94 C 6.25 3.63 6.99 1.85 6.99 0 C 6.99 -1.85 6.25 -3.63 4.94 -4.94 C 3.63 -6.25 1.85 -6.99 0 -6.99 C -1.85 -6.99 -3.63 -6.25 -4.94 -4.94 C -6.25 -3.63 -6.99 -1.85 -6.99 0 C -6.99 1.85 -6.25 3.63 -4.94 4.94 C -3.63 6.25 -1.85 6.99 0 6.99 z" transform="translate(1957.75 322.49)" style="fill: #ffffff; stroke: #1f77b4; stroke-width: 2.73"/>
<path d="M 0 6.99 C 1.85 6.99 3.63 6.25 4.94 4.94 C 6.25 3.63 6.99 1.85 6.99 0 C 6.99 -1.85 6.25 -3.63 4.94 -4.94 C 3.63 -6.25 1.85 -6.99 0 -6.99 C -1.85 -6.99 -3.63 -6.25 -4.94 -4.94 C -6.25 -3.63 -6.99 -1.85 -6.99 0 C -6.99 1.85 -6.25 3.63 -4.94 4.94 C -3.63 6.25 -1.85 6.99 0 6.99 z" transform="translate(1978.77 324.8)" style="fill: #ffffff; stroke: #1f77b4; stroke-width: 2.73"/>
</g>
</g>
<g>
<path d="M 1453.1 414.44 L 1474.13 414.44 L 1495.15 414.44 L 1516.18 414.44 L 1537.21 414.44 L 1558.23 414.44 L 1579.26 414.44 L 1600.29 414.44 L 1621.32 414.44 L 1642.34 414.44 L 1663.37 414.84 L 1684.4 416.43 L 1705.42 412.64 L 1726.45 413.4 L 1747.48 414.56 L 1768.5 417.15 L 1776.91 417.15" style="fill: none; stroke: #d62728; stroke-width: 3.9; stroke-linecap: square"/>
<g>
<path d="M -0 6.99 L 6.99 -6.99 L -6.99 -6.99 z" transform="translate(1453.1 414.44)" style="fill: #d62728; stroke: #d62728; stroke-width: 2.73; stroke-linejoin: miter"/>
<path d="M -0 6.99 L 6.99 -6.99 L -6.99 -6.99 z" transform="translate(1474.13 414.44)" style="fill: #d62728; stroke: #d62728; stroke-width: 2.73; stroke-linejoin: miter"/>
<path d="M -0 6.99 L 6.99 -6.99 L -6.99 -6.99 z" transform="translate(1495.15 414.44)" style="fill: #d62728; stroke: #d62728; stroke-width: 2.73; stroke-linejoin: miter"/>
<path d="M -0 6.99 L 6.99 -6.99 L -6.99 -6.99 z" transform="translate(1516.18 414.44)" style="fill: #d62728; stroke: #d62728; stroke-width: 2.73; stroke-linejoin: miter"/>
<path d="M -0 6.99 L 6.99 -6.99 L -6.99 -6.99 z" transform="translate(1537.21 414.44)" style="fill: #d62728; stroke: #d62728; stroke-width: 2.73; stroke-linejoin: miter"/>
<path d="M -0 6.99 L 6.99 -6.99 L -6.99 -6.99 z" transform="translate(1558.23 414.44)" style="fill: #d62728; stroke: #d62728; stroke-width: 2.73; stroke-linejoin: miter"/>
<path d="M -0 6.99 L 6.99 -6.99 L -6.99 -6.99 z" transform="translate(1579.26 414.44)" style="fill: #d62728; stroke: #d62728; stroke-width: 2.73; stroke-linejoin: miter"/>
<path d="M -0 6.99 L 6.99 -6.99 L -6.99 -6.99 z" transform="translate(1600.29 414.44)" style="fill: #d62728; stroke: #d62728; stroke-width: 2.73; stroke-linejoin: miter"/>
<path d="M -0 6.99 L 6.99 -6.99 L -6.99 -6.99 z" transform="translate(1621.32 414.44)" style="fill: #d62728; stroke: #d62728; stroke-width: 2.73; stroke-linejoin: miter"/>
<path d="M -0 6.99 L 6.99 -6.99 L -6.99 -6.99 z" transform="translate(1642.34 414.44)" style="fill: #d62728; stroke: #d62728; stroke-width: 2.73; stroke-linejoin: miter"/>
<path d="M -0 6.99 L 6.99 -6.99 L -6.99 -6.99 z" transform="translate(1663.37 414.84)" style="fill: #d62728; stroke: #d62728; stroke-width: 2.73; stroke-linejoin: miter"/>
<path d="M -0 6.99 L 6.99 -6.99 L -6.99 -6.99 z" transform="translate(1684.4 416.43)" style="fill: #d62728; stroke: #d62728; stroke-width: 2.73; stroke-linejoin: miter"/>
<path d="M -0 6.99 L 6.99 -6.99 L -6.99 -6.99 z" transform="translate(1705.42 412.64)" style="fill: #d62728; stroke: #d62728; stroke-width: 2.73; stroke-linejoin: miter"/>
<path d="M -0 6.99 L 6.99 -6.99 L -6.99 -6.99 z" transform="translate(1726.45 413.4)" style="fill: #d62728; stroke: #d62728; stroke-width: 2.73; stroke-linejoin: miter"/>
<path d="M -0 6.99 L 6.99 -6.99 L -6.99 -6.99 z" transform="translate(1747.48 414.56)" style="fill: #d62728; stroke: #d62728; stroke-width: 2.73; stroke-linejoin: miter"/>
<path d="M -0 6.99 L 6.99 -6.99 L -6.99 -6.99 z" transform="translate(1768.5 417.15)" style="fill: #d62728; stroke: #d62728; stroke-width: 2.73; stroke-linejoin: miter"/>
<path d="M -0 6.99 L 6.99 -6.99 L -6.99 -6.99 z" transform="translate(1776.91 417.15)" style="fill: #d62728; stroke: #d62728; stroke-width: 2.73; stroke-linejoin: miter"/>
</g>
</g>
<g>
<path d="M 1776.91 399.2 L 1789.53 399.42 L 1810.56 399.5 L 1831.58 401.05 L 1852.61 404.29 L 1873.64 406.89 L 1894.67 409.5 L 1915.69 411.5 L 1936.72 412.89 L 1957.75 413.76 L 1978.77 415.31" style="fill: none; stroke: #d62728; stroke-width: 3.9; stroke-linecap: square"/>
<g>
<path d="M -0 6.99 L 6.99 -6.99 L -6.99 -6.99 z" transform="translate(1776.91 399.2)" style="fill: #ffffff; stroke: #d62728; stroke-width: 2.73; stroke-linejoin: miter"/>
<path d="M -0 6.99 L 6.99 -6.99 L -6.99 -6.99 z" transform="translate(1789.53 399.42)" style="fill: #ffffff; stroke: #d62728; stroke-width: 2.73; stroke-linejoin: miter"/>
<path d="M -0 6.99 L 6.99 -6.99 L -6.99 -6.99 z" transform="translate(1810.56 399.5)" style="fill: #ffffff; stroke: #d62728; stroke-width: 2.73; stroke-linejoin: miter"/>
<path d="M -0 6.99 L 6.99 -6.99 L -6.99 -6.99 z" transform="translate(1831.58 401.05)" style="fill: #ffffff; stroke: #d62728; stroke-width: 2.73; stroke-linejoin: miter"/>
<path d="M -0 6.99 L 6.99 -6.99 L -6.99 -6.99 z" transform="translate(1852.61 404.29)" style="fill: #ffffff; stroke: #d62728; stroke-width: 2.73; stroke-linejoin: miter"/>
<path d="M -0 6.99 L 6.99 -6.99 L -6.99 -6.99 z" transform="translate(1873.64 406.89)" style="fill: #ffffff; stroke: #d62728; stroke-width: 2.73; stroke-linejoin: miter"/>
<path d="M -0 6.99 L 6.99 -6.99 L -6.99 -6.99 z" transform="translate(1894.67 409.5)" style="fill: #ffffff; stroke: #d62728; stroke-width: 2.73; stroke-linejoin: miter"/>
<path d="M -0 6.99 L 6.99 -6.99 L -6.99 -6.99 z" transform="translate(1915.69 411.5)" style="fill: #ffffff; stroke: #d62728; stroke-width: 2.73; stroke-linejoin: miter"/>
<path d="M -0 6.99 L 6.99 -6.99 L -6.99 -6.99 z" transform="translate(1936.72 412.89)" style="fill: #ffffff; stroke: #d62728; stroke-width: 2.73; stroke-linejoin: miter"/>
<path d="M -0 6.99 L 6.99 -6.99 L -6.99 -6.99 z" transform="translate(1957.75 413.76)" style="fill: #ffffff; stroke: #d62728; stroke-width: 2.73; stroke-linejoin: miter"/>
<path d="M -0 6.99 L 6.99 -6.99 L -6.99 -6.99 z" transform="translate(1978.77 415.31)" style="fill: #ffffff; stroke: #d62728; stroke-width: 2.73; stroke-linejoin: miter"/>
</g>
</g>
<g>
<path d="M 1453.1 294.89 L 1474.13 287.62 L 1495.15 280.47 L 1516.18 272.72 L 1537.21 266.01 L 1558.23 259.56 L 1579.26 255.22 L 1600.29 259.14 L 1621.32 264.53 L 1642.34 267.12 L 1663.37 265.53 L 1684.4 261.24 L 1705.42 245.32 L 1726.45 227.1 L 1747.48 199.22 L 1768.5 171.98 L 1776.91 162.23" style="fill: none; stroke: #ff7f0e; stroke-width: 3.9; stroke-linecap: square"/>
<g>
<path d="M -6.99 6.99 L 6.99 6.99 L 6.99 -6.99 L -6.99 -6.99 z" transform="translate(1453.1 294.89)" style="fill: #ff7f0e; stroke: #ff7f0e; stroke-width: 2.73; stroke-linejoin: miter"/>
<path d="M -6.99 6.99 L 6.99 6.99 L 6.99 -6.99 L -6.99 -6.99 z" transform="translate(1474.13 287.62)" style="fill: #ff7f0e; stroke: #ff7f0e; stroke-width: 2.73; stroke-linejoin: miter"/>
<path d="M -6.99 6.99 L 6.99 6.99 L 6.99 -6.99 L -6.99 -6.99 z" transform="translate(1495.15 280.47)" style="fill: #ff7f0e; stroke: #ff7f0e; stroke-width: 2.73; stroke-linejoin: miter"/>
<path d="M -6.99 6.99 L 6.99 6.99 L 6.99 -6.99 L -6.99 -6.99 z" transform="translate(1516.18 272.72)" style="fill: #ff7f0e; stroke: #ff7f0e; stroke-width: 2.73; stroke-linejoin: miter"/>
<path d="M -6.99 6.99 L 6.99 6.99 L 6.99 -6.99 L -6.99 -6.99 z" transform="translate(1537.21 266.01)" style="fill: #ff7f0e; stroke: #ff7f0e; stroke-width: 2.73; stroke-linejoin: miter"/>
<path d="M -6.99 6.99 L 6.99 6.99 L 6.99 -6.99 L -6.99 -6.99 z" transform="translate(1558.23 259.56)" style="fill: #ff7f0e; stroke: #ff7f0e; stroke-width: 2.73; stroke-linejoin: miter"/>
<path d="M -6.99 6.99 L 6.99 6.99 L 6.99 -6.99 L -6.99 -6.99 z" transform="translate(1579.26 255.22)" style="fill: #ff7f0e; stroke: #ff7f0e; stroke-width: 2.73; stroke-linejoin: miter"/>
<path d="M -6.99 6.99 L 6.99 6.99 L 6.99 -6.99 L -6.99 -6.99 z" transform="translate(1600.29 259.14)" style="fill: #ff7f0e; stroke: #ff7f0e; stroke-width: 2.73; stroke-linejoin: miter"/>
<path d="M -6.99 6.99 L 6.99 6.99 L 6.99 -6.99 L -6.99 -6.99 z" transform="translate(1621.32 264.53)" style="fill: #ff7f0e; stroke: #ff7f0e; stroke-width: 2.73; stroke-linejoin: miter"/>
<path d="M -6.99 6.99 L 6.99 6.99 L 6.99 -6.99 L -6.99 -6.99 z" transform="translate(1642.34 267.12)" style="fill: #ff7f0e; stroke: #ff7f0e; stroke-width: 2.73; stroke-linejoin: miter"/>
<path d="M -6.99 6.99 L 6.99 6.99 L 6.99 -6.99 L -6.99 -6.99 z" transform="translate(1663.37 265.53)" style="fill: #ff7f0e; stroke: #ff7f0e; stroke-width: 2.73; stroke-linejoin: miter"/>
<path d="M -6.99 6.99 L 6.99 6.99 L 6.99 -6.99 L -6.99 -6.99 z" transform="translate(1684.4 261.24)" style="fill: #ff7f0e; stroke: #ff7f0e; stroke-width: 2.73; stroke-linejoin: miter"/>
<path d="M -6.99 6.99 L 6.99 6.99 L 6.99 -6.99 L -6.99 -6.99 z" transform="translate(1705.42 245.32)" style="fill: #ff7f0e; stroke: #ff7f0e; stroke-width: 2.73; stroke-linejoin: miter"/>
<path d="M -6.99 6.99 L 6.99 6.99 L 6.99 -6.99 L -6.99 -6.99 z" transform="translate(1726.45 227.1)" style="fill: #ff7f0e; stroke: #ff7f0e; stroke-width: 2.73; stroke-linejoin: miter"/>
<path d="M -6.99 6.99 L 6.99 6.99 L 6.99 -6.99 L -6.99 -6.99 z" transform="translate(1747.48 199.22)" style="fill: #ff7f0e; stroke: #ff7f0e; stroke-width: 2.73; stroke-linejoin: miter"/>
<path d="M -6.99 6.99 L 6.99 6.99 L 6.99 -6.99 L -6.99 -6.99 z" transform="translate(1768.5 171.98)" style="fill: #ff7f0e; stroke: #ff7f0e; stroke-width: 2.73; stroke-linejoin: miter"/>
<path d="M -6.99 6.99 L 6.99 6.99 L 6.99 -6.99 L -6.99 -6.99 z" transform="translate(1776.91 162.23)" style="fill: #ff7f0e; stroke: #ff7f0e; stroke-width: 2.73; stroke-linejoin: miter"/>
</g>
</g>
<g>
<path d="M 1776.91 56.25 L 1789.53 56.54 L 1810.56 56.25 L 1831.58 57.1 L 1852.61 61.13 L 1873.64 65.89 L 1894.67 70.32 L 1915.69 73.96 L 1936.72 78.27 L 1957.75 83.01 L 1978.77 88.94" style="fill: none; stroke: #ff7f0e; stroke-width: 3.9; stroke-linecap: square"/>
<g>
<path d="M -6.99 6.99 L 6.99 6.99 L 6.99 -6.99 L -6.99 -6.99 z" transform="translate(1776.91 56.25)" style="fill: #ffffff; stroke: #ff7f0e; stroke-width: 2.73; stroke-linejoin: miter"/>
<path d="M -6.99 6.99 L 6.99 6.99 L 6.99 -6.99 L -6.99 -6.99 z" transform="translate(1789.53 56.54)" style="fill: #ffffff; stroke: #ff7f0e; stroke-width: 2.73; stroke-linejoin: miter"/>
<path d="M -6.99 6.99 L 6.99 6.99 L 6.99 -6.99 L -6.99 -6.99 z" transform="translate(1810.56 56.25)" style="fill: #ffffff; stroke: #ff7f0e; stroke-width: 2.73; stroke-linejoin: miter"/>
<path d="M -6.99 6.99 L 6.99 6.99 L 6.99 -6.99 L -6.99 -6.99 z" transform="translate(1831.58 57.1)" style="fill: #ffffff; stroke: #ff7f0e; stroke-width: 2.73; stroke-linejoin: miter"/>
<path d="M -6.99 6.99 L 6.99 6.99 L 6.99 -6.99 L -6.99 -6.99 z" transform="translate(1852.61 61.13)" style="fill: #ffffff; stroke: #ff7f0e; stroke-width: 2.73; stroke-linejoin: miter"/>
<path d="M -6.99 6.99 L 6.99 6.99 L 6.99 -6.99 L -6.99 -6.99 z" transform="translate(1873.64 65.89)" style="fill: #ffffff; stroke: #ff7f0e; stroke-width: 2.73; stroke-linejoin: miter"/>
<path d="M -6.99 6.99 L 6.99 6.99 L 6.99 -6.99 L -6.99 -6.99 z" transform="translate(1894.67 70.32)" style="fill: #ffffff; stroke: #ff7f0e; stroke-width: 2.73; stroke-linejoin: miter"/>
<path d="M -6.99 6.99 L 6.99 6.99 L 6.99 -6.99 L -6.99 -6.99 z" transform="translate(1915.69 73.96)" style="fill: #ffffff; stroke: #ff7f0e; stroke-width: 2.73; stroke-linejoin: miter"/>
<path d="M -6.99 6.99 L 6.99 6.99 L 6.99 -6.99 L -6.99 -6.99 z" transform="translate(1936.72 78.27)" style="fill: #ffffff; stroke: #ff7f0e; stroke-width: 2.73; stroke-linejoin: miter"/>
<path d="M -6.99 6.99 L 6.99 6.99 L 6.99 -6.99 L -6.99 -6.99 z" transform="translate(1957.75 83.01)" style="fill: #ffffff; stroke: #ff7f0e; stroke-width: 2.73; stroke-linejoin: miter"/>
<path d="M -6.99 6.99 L 6.99 6.99 L 6.99 -6.99 L -6.99 -6.99 z" transform="translate(1978.77 88.94)" style="fill: #ffffff; stroke: #ff7f0e; stroke-width: 2.73; stroke-linejoin: miter"/>
</g>
</g>
<g>
<path d="M 1453.1 510.7 L 1453.1 15.4" style="fill: none; stroke: #000000; stroke-width: 2.06; stroke-linejoin: miter; stroke-linecap: square"/>
</g>
<g>
<path d="M 1999.8 510.7 L 1999.8 15.4" style="fill: none; stroke: #000000; stroke-width: 2.06; stroke-linejoin: miter; stroke-linecap: square"/>
</g>
<g>
<path d="M 1453.1 510.7 L 1999.8 510.7" style="fill: none; stroke: #000000; stroke-width: 2.06; stroke-linejoin: miter; stroke-linecap: square"/>
</g>
<g>
<path d="M 1453.1 15.4 L 1999.8 15.4" style="fill: none; stroke: #000000; stroke-width: 2.06; stroke-linejoin: miter; stroke-linecap: square"/>
</g>
<g>
<g transform="translate(1712.48 494.9)">
<text><tspan x="0 14.02" y="-0.34" style="font-size: 23.3px; font-family: 'DejaVu Sans', sans-serif">P3</tspan><tspan x="28.92" y="-4.26" style="font-size: 23.3px; font-family: 'DejaVu Sans', sans-serif">̄</tspan><tspan x="28.81 43.61" y="-0.34" style="font-size: 23.3px; font-family: 'DejaVu Sans', sans-serif">1c</tspan></text>
</g>
</g>
<g>
<text style="font-size: 23.3px; font-family: 'DejaVu Sans', sans-serif; text-anchor: start" x="1784.93" y="494.9">C2/c</text>
</g>
<g>
<g transform="translate(1461.51 43.3)">
<text><tspan x="0 20.06" y="-0.53" style="font-size: 23.3px; font-family: 'DejaVu Sans', sans-serif">Mn</tspan><tspan x="35.02" y="3.24" style="font-size: 16.31px; font-family: 'DejaVu Sans', sans-serif">3</tspan><tspan x="46 60.76" y="-0.53" style="font-size: 23.3px; font-family: 'DejaVu Sans', sans-serif">Si</tspan><tspan x="67.44" y="3.24" style="font-size: 16.31px; font-family: 'DejaVu Sans', sans-serif">2</tspan><tspan x="78.42 92.62" y="-0.53" style="font-size: 23.3px; font-family: 'DejaVu Sans', sans-serif">Te</tspan><tspan x="107.15" y="3.24" style="font-size: 16.31px; font-family: 'DejaVu Sans', sans-serif">6</tspan><tspan x="118.13 125.52" y="-0.53" style="font-size: 23.3px; font-family: 'DejaVu Sans', sans-serif">, </tspan><tspan x="132.91" y="-0.53" style="font-style: oblique; font-size: 23.3px; font-family: 'DejaVu Sans', sans-serif">U</tspan><tspan x="154.46 178.47 193.26 199.4 214.19 221.59 235.89" y="-0.53" style="font-size: 23.3px; font-family: 'DejaVu Sans', sans-serif">=4.2 eV</tspan></text>
</g>
</g>
<g>
<path d="M 1469.76 214 L 1574.74 214 Q 1579.4 214 1579.4 209.34 L 1579.4 66.31 Q 1579.4 61.65 1574.74 61.65 L 1469.76 61.65 Q 1465.1 61.65 1465.1 66.31 L 1465.1 209.34 Q 1465.1 214 1469.76 214 z" style="fill: #ffffff; opacity: 0.8; stroke: #cccccc; stroke-width: 2.73; stroke-linejoin: miter"/>
</g>
<g>
<path d="M 1474.3 83.6 L 1520.9 83.6" style="fill: none; stroke: #2ca02c; stroke-width: 3.9; stroke-linecap: square"/>
</g>
<g>
<path d="M 1474.3 121 L 1520.9 121" style="fill: none; stroke: #1f77b4; stroke-width: 3.9; stroke-linecap: square"/>
</g>
<g>
<path d="M 1474.3 157.25 L 1520.9 157.25" style="fill: none; stroke: #d62728; stroke-width: 3.9; stroke-linecap: square"/>
</g>
<g>
<path d="M 1474.3 191.5 L 1520.9 191.5" style="fill: none; stroke: #ff7f0e; stroke-width: 3.9; stroke-linecap: square"/>
</g>
<g>
<g>
<path d="M 0 -6.99 L -6.99 6.99 L 6.99 6.99 z" transform="translate(1497.6 83.6)" style="fill: #2ca02c; stroke: #2ca02c; stroke-width: 2.73; stroke-linejoin: miter"/>
</g>
</g>
<g>
<g>
<path d="M 0 6.99 C 1.85 6.99 3.63 6.25 4.94 4.94 C 6.25 3.63 6.99 1.85 6.99 0 C 6.99 -1.85 6.25 -3.63 4.94 -4.94 C 3.63 -6.25 1.85 -6.99 0 -6.99 C -1.85 -6.99 -3.63 -6.25 -4.94 -4.94 C -6.25 -3.63 -6.99 -1.85 -6.99 0 C -6.99 1.85 -6.25 3.63 -4.94 4.94 C -3.63 6.25 -1.85 6.99 0 6.99 z" transform="translate(1497.6 121)" style="fill: #1f77b4; stroke: #1f77b4; stroke-width: 2.73"/>
</g>
</g>
<g>
<g>
<path d="M -0 6.99 L 6.99 -6.99 L -6.99 -6.99 z" transform="translate(1497.6 157.25)" style="fill: #d62728; stroke: #d62728; stroke-width: 2.73; stroke-linejoin: miter"/>
</g>
</g>
<g>
<g>
<path d="M -6.99 6.99 L 6.99 6.99 L 6.99 -6.99 L -6.99 -6.99 z" transform="translate(1497.6 191.5)" style="fill: #ff7f0e; stroke: #ff7f0e; stroke-width: 2.73; stroke-linejoin: miter"/>
</g>
</g>
<g>
<g transform="translate(1539.7 92.3)">
<text><tspan x="0" y="-0.49" style="font-style: oblique; font-size: 23.3px; font-family: 'DejaVu Sans', sans-serif">J</tspan><tspan x="6.86" y="5.8" style="font-size: 16.31px; font-family: 'DejaVu Sans', sans-serif">1</tspan><tspan x="8.47 18.1" y="-12.2" style="font-style: oblique; font-size: 16.31px; font-family: 'DejaVu Sans', sans-serif">yy</tspan></text>
</g>
</g>
<g>
<g transform="translate(1539.7 128.8)">
<text><tspan x="0" y="-0.39" style="font-style: oblique; font-size: 23.3px; font-family: 'DejaVu Sans', sans-serif">J</tspan><tspan x="6.86" y="5.9" style="font-size: 16.31px; font-family: 'DejaVu Sans', sans-serif">1</tspan><tspan x="8.47 17.01" y="-9.2" style="font-style: oblique; font-size: 16.31px; font-family: 'DejaVu Sans', sans-serif">zz</tspan></text>
</g>
</g>
<g>
<g transform="translate(1539.7 165.15)">
<text><tspan x="0" y="-0.39" style="font-style: oblique; font-size: 23.3px; font-family: 'DejaVu Sans', sans-serif">K</tspan><tspan x="16.86" y="-9.2" style="font-style: oblique; font-size: 16.31px; font-family: 'DejaVu Sans', sans-serif">y</tspan></text>
</g>
</g>
<g>
<g transform="translate(1539.7 198.9)">
<text><tspan x="0" y="-0.39" style="font-style: oblique; font-size: 23.3px; font-family: 'DejaVu Sans', sans-serif">K</tspan><tspan x="16.86" y="-9.2" style="font-style: oblique; font-size: 16.31px; font-family: 'DejaVu Sans', sans-serif">z</tspan></text>
</g>
</g>
</g>
<g>
<text style="font-weight: 700; font-size: 27.96px; font-family: 'DejaVu Sans', sans-serif; text-anchor: start" x="-0.2" y="21.95">a</text>
</g>
<g>
<text style="font-weight: 700; font-size: 27.96px; font-family: 'DejaVu Sans', sans-serif; text-anchor: start" x="646.5" y="21.95">b</text>
</g>
<g>
<text style="font-weight: 700; font-size: 27.96px; font-family: 'DejaVu Sans', sans-serif; text-anchor: start" x="1371.3" y="21.95">c</text>
</g>
</g>
<defs>
<clipPath id="pd2cb2545d2">
<rect x="82" y="15.4" width="546.7" height="495.3"/>
</clipPath>
<clipPath id="p36c99d7f9c">
<rect x="728.2" y="15.4" width="546.7" height="495.3"/>
</clipPath>
<clipPath id="p0e8e477ed9">
<rect x="1453.1" y="15.4" width="546.7" height="495.3"/>
</clipPath>
</defs>
</svg>
</body>
</html>
